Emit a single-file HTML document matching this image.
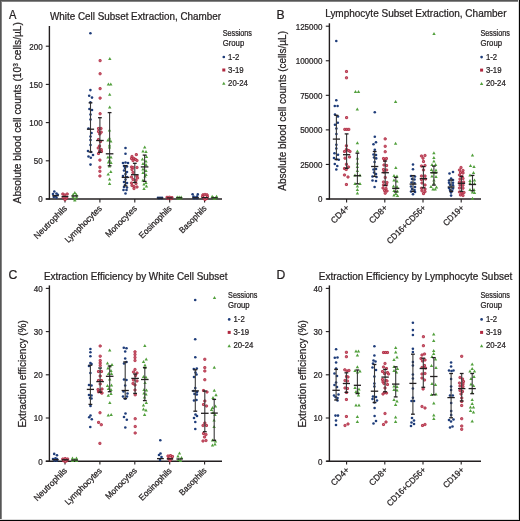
<!DOCTYPE html>
<html><head><meta charset="utf-8"><style>html,body{margin:0;padding:0;background:#fff;width:520px;height:521px;overflow:hidden}</style></head>
<body>
<svg width="520" height="521" viewBox="0 0 520 521" style="position:absolute;left:0;top:0;font-family:'Liberation Sans', sans-serif;will-change:transform">
<rect x="0" y="0" width="520" height="521" fill="#fff"/>
<line x1="49.4" y1="26.0" x2="49.4" y2="199.65" stroke="#231f20" stroke-width="1.4"/>
<line x1="45.8" y1="199.0" x2="222.0" y2="199.0" stroke="#231f20" stroke-width="1.4"/>
<line x1="45.8" y1="199.0" x2="49.4" y2="199.0" stroke="#231f20" stroke-width="1.1"/>
<text x="42.6" y="202.4" font-size="8.6" fill="#231f20" stroke="#231f20" stroke-width="0.24" text-anchor="end" textLength="4.45" lengthAdjust="spacingAndGlyphs" >0</text>
<line x1="45.8" y1="160.8" x2="49.4" y2="160.8" stroke="#231f20" stroke-width="1.1"/>
<text x="42.6" y="164.20000000000002" font-size="8.6" fill="#231f20" stroke="#231f20" stroke-width="0.24" text-anchor="end" textLength="8.9" lengthAdjust="spacingAndGlyphs" >50</text>
<line x1="45.8" y1="122.6" x2="49.4" y2="122.6" stroke="#231f20" stroke-width="1.1"/>
<text x="42.6" y="126.0" font-size="8.6" fill="#231f20" stroke="#231f20" stroke-width="0.24" text-anchor="end" textLength="13.35" lengthAdjust="spacingAndGlyphs" >100</text>
<line x1="45.8" y1="84.4" x2="49.4" y2="84.4" stroke="#231f20" stroke-width="1.1"/>
<text x="42.6" y="87.80000000000001" font-size="8.6" fill="#231f20" stroke="#231f20" stroke-width="0.24" text-anchor="end" textLength="13.35" lengthAdjust="spacingAndGlyphs" >150</text>
<line x1="45.8" y1="46.2" x2="49.4" y2="46.2" stroke="#231f20" stroke-width="1.1"/>
<text x="42.6" y="49.6" font-size="8.6" fill="#231f20" stroke="#231f20" stroke-width="0.24" text-anchor="end" textLength="13.35" lengthAdjust="spacingAndGlyphs" >200</text>
<line x1="65" y1="199.0" x2="65" y2="202.4" stroke="#231f20" stroke-width="1.1"/>
<line x1="99.9" y1="199.0" x2="99.9" y2="202.4" stroke="#231f20" stroke-width="1.1"/>
<line x1="134.8" y1="199.0" x2="134.8" y2="202.4" stroke="#231f20" stroke-width="1.1"/>
<line x1="169.7" y1="199.0" x2="169.7" y2="202.4" stroke="#231f20" stroke-width="1.1"/>
<line x1="204.6" y1="199.0" x2="204.6" y2="202.4" stroke="#231f20" stroke-width="1.1"/>
<text transform="translate(67.6,209.0) rotate(-45)" x="0" y="0" font-size="8.6" fill="#231f20" stroke="#231f20" stroke-width="0.24" text-anchor="end" textLength="43.0" lengthAdjust="spacingAndGlyphs" >Neutrophils</text>
<text transform="translate(102.5,209.0) rotate(-45)" x="0" y="0" font-size="8.6" fill="#231f20" stroke="#231f20" stroke-width="0.24" text-anchor="end" textLength="48.6" lengthAdjust="spacingAndGlyphs" >Lymphocytes</text>
<text transform="translate(137.4,209.0) rotate(-45)" x="0" y="0" font-size="8.6" fill="#231f20" stroke="#231f20" stroke-width="0.24" text-anchor="end" textLength="40.5" lengthAdjust="spacingAndGlyphs" >Monocytes</text>
<text transform="translate(172.29999999999998,209.0) rotate(-45)" x="0" y="0" font-size="8.6" fill="#231f20" stroke="#231f20" stroke-width="0.24" text-anchor="end" textLength="42.4" lengthAdjust="spacingAndGlyphs" >Eosinophils</text>
<text transform="translate(207.2,209.0) rotate(-45)" x="0" y="0" font-size="8.6" fill="#231f20" stroke="#231f20" stroke-width="0.24" text-anchor="end" textLength="35.0" lengthAdjust="spacingAndGlyphs" >Basophils</text>
<line x1="329.4" y1="23.3" x2="329.4" y2="199.65" stroke="#231f20" stroke-width="1.4"/>
<line x1="326.3" y1="199.0" x2="481.0" y2="199.0" stroke="#231f20" stroke-width="1.4"/>
<line x1="325.79999999999995" y1="199.0" x2="329.4" y2="199.0" stroke="#231f20" stroke-width="1.1"/>
<text x="322.4" y="202.4" font-size="8.6" fill="#231f20" stroke="#231f20" stroke-width="0.24" text-anchor="end" textLength="4.45" lengthAdjust="spacingAndGlyphs" >0</text>
<line x1="325.79999999999995" y1="164.44" x2="329.4" y2="164.44" stroke="#231f20" stroke-width="1.1"/>
<text x="322.4" y="167.84" font-size="8.6" fill="#231f20" stroke="#231f20" stroke-width="0.24" text-anchor="end" textLength="22.25" lengthAdjust="spacingAndGlyphs" >25000</text>
<line x1="325.79999999999995" y1="129.88" x2="329.4" y2="129.88" stroke="#231f20" stroke-width="1.1"/>
<text x="322.4" y="133.28" font-size="8.6" fill="#231f20" stroke="#231f20" stroke-width="0.24" text-anchor="end" textLength="22.25" lengthAdjust="spacingAndGlyphs" >50000</text>
<line x1="325.79999999999995" y1="95.32" x2="329.4" y2="95.32" stroke="#231f20" stroke-width="1.1"/>
<text x="322.4" y="98.72" font-size="8.6" fill="#231f20" stroke="#231f20" stroke-width="0.24" text-anchor="end" textLength="22.25" lengthAdjust="spacingAndGlyphs" >75000</text>
<line x1="325.79999999999995" y1="60.76" x2="329.4" y2="60.76" stroke="#231f20" stroke-width="1.1"/>
<text x="322.4" y="64.16" font-size="8.6" fill="#231f20" stroke="#231f20" stroke-width="0.24" text-anchor="end" textLength="26.7" lengthAdjust="spacingAndGlyphs" >100000</text>
<line x1="325.79999999999995" y1="26.2" x2="329.4" y2="26.2" stroke="#231f20" stroke-width="1.1"/>
<text x="322.4" y="29.599999999999998" font-size="8.6" fill="#231f20" stroke="#231f20" stroke-width="0.24" text-anchor="end" textLength="26.7" lengthAdjust="spacingAndGlyphs" >125000</text>
<line x1="346.6" y1="199.0" x2="346.6" y2="202.4" stroke="#231f20" stroke-width="1.1"/>
<line x1="384.8" y1="199.0" x2="384.8" y2="202.4" stroke="#231f20" stroke-width="1.1"/>
<line x1="423.0" y1="199.0" x2="423.0" y2="202.4" stroke="#231f20" stroke-width="1.1"/>
<line x1="461.2" y1="199.0" x2="461.2" y2="202.4" stroke="#231f20" stroke-width="1.1"/>
<text transform="translate(349.90000000000003,208.3) rotate(-45)" x="0" y="0" font-size="8.6" fill="#231f20" stroke="#231f20" stroke-width="0.24" text-anchor="end" textLength="22.2" lengthAdjust="spacingAndGlyphs" >CD4+</text>
<text transform="translate(388.1,208.3) rotate(-45)" x="0" y="0" font-size="8.6" fill="#231f20" stroke="#231f20" stroke-width="0.24" text-anchor="end" textLength="22.2" lengthAdjust="spacingAndGlyphs" >CD8+</text>
<text transform="translate(426.3,208.3) rotate(-45)" x="0" y="0" font-size="8.6" fill="#231f20" stroke="#231f20" stroke-width="0.24" text-anchor="end" textLength="51.1" lengthAdjust="spacingAndGlyphs" >CD16+CD56+</text>
<text transform="translate(464.5,208.3) rotate(-45)" x="0" y="0" font-size="8.6" fill="#231f20" stroke="#231f20" stroke-width="0.24" text-anchor="end" textLength="25.6" lengthAdjust="spacingAndGlyphs" >CD19+</text>
<line x1="49.4" y1="285.4" x2="49.4" y2="461.84999999999997" stroke="#231f20" stroke-width="1.4"/>
<line x1="45.8" y1="461.2" x2="222.0" y2="461.2" stroke="#231f20" stroke-width="1.4"/>
<line x1="45.8" y1="461.2" x2="49.4" y2="461.2" stroke="#231f20" stroke-width="1.1"/>
<text x="42.6" y="464.59999999999997" font-size="8.6" fill="#231f20" stroke="#231f20" stroke-width="0.24" text-anchor="end" textLength="4.45" lengthAdjust="spacingAndGlyphs" >0</text>
<line x1="45.8" y1="418.0" x2="49.4" y2="418.0" stroke="#231f20" stroke-width="1.1"/>
<text x="42.6" y="421.4" font-size="8.6" fill="#231f20" stroke="#231f20" stroke-width="0.24" text-anchor="end" textLength="8.9" lengthAdjust="spacingAndGlyphs" >10</text>
<line x1="45.8" y1="374.8" x2="49.4" y2="374.8" stroke="#231f20" stroke-width="1.1"/>
<text x="42.6" y="378.2" font-size="8.6" fill="#231f20" stroke="#231f20" stroke-width="0.24" text-anchor="end" textLength="8.9" lengthAdjust="spacingAndGlyphs" >20</text>
<line x1="45.8" y1="331.6" x2="49.4" y2="331.6" stroke="#231f20" stroke-width="1.1"/>
<text x="42.6" y="335.0" font-size="8.6" fill="#231f20" stroke="#231f20" stroke-width="0.24" text-anchor="end" textLength="8.9" lengthAdjust="spacingAndGlyphs" >30</text>
<line x1="45.8" y1="288.4" x2="49.4" y2="288.4" stroke="#231f20" stroke-width="1.1"/>
<text x="42.6" y="291.79999999999995" font-size="8.6" fill="#231f20" stroke="#231f20" stroke-width="0.24" text-anchor="end" textLength="8.9" lengthAdjust="spacingAndGlyphs" >40</text>
<line x1="65" y1="461.2" x2="65" y2="464.59999999999997" stroke="#231f20" stroke-width="1.1"/>
<line x1="99.9" y1="461.2" x2="99.9" y2="464.59999999999997" stroke="#231f20" stroke-width="1.1"/>
<line x1="134.8" y1="461.2" x2="134.8" y2="464.59999999999997" stroke="#231f20" stroke-width="1.1"/>
<line x1="169.7" y1="461.2" x2="169.7" y2="464.59999999999997" stroke="#231f20" stroke-width="1.1"/>
<line x1="204.6" y1="461.2" x2="204.6" y2="464.59999999999997" stroke="#231f20" stroke-width="1.1"/>
<text transform="translate(67.6,471.2) rotate(-45)" x="0" y="0" font-size="8.6" fill="#231f20" stroke="#231f20" stroke-width="0.24" text-anchor="end" textLength="43.0" lengthAdjust="spacingAndGlyphs" >Neutrophils</text>
<text transform="translate(102.5,471.2) rotate(-45)" x="0" y="0" font-size="8.6" fill="#231f20" stroke="#231f20" stroke-width="0.24" text-anchor="end" textLength="48.6" lengthAdjust="spacingAndGlyphs" >Lymphocytes</text>
<text transform="translate(137.4,471.2) rotate(-45)" x="0" y="0" font-size="8.6" fill="#231f20" stroke="#231f20" stroke-width="0.24" text-anchor="end" textLength="40.5" lengthAdjust="spacingAndGlyphs" >Monocytes</text>
<text transform="translate(172.29999999999998,471.2) rotate(-45)" x="0" y="0" font-size="8.6" fill="#231f20" stroke="#231f20" stroke-width="0.24" text-anchor="end" textLength="42.4" lengthAdjust="spacingAndGlyphs" >Eosinophils</text>
<text transform="translate(207.2,471.2) rotate(-45)" x="0" y="0" font-size="8.6" fill="#231f20" stroke="#231f20" stroke-width="0.24" text-anchor="end" textLength="35.0" lengthAdjust="spacingAndGlyphs" >Basophils</text>
<line x1="329.4" y1="285.4" x2="329.4" y2="461.84999999999997" stroke="#231f20" stroke-width="1.4"/>
<line x1="326.3" y1="461.2" x2="481.0" y2="461.2" stroke="#231f20" stroke-width="1.4"/>
<line x1="325.79999999999995" y1="461.2" x2="329.4" y2="461.2" stroke="#231f20" stroke-width="1.1"/>
<text x="322.4" y="464.59999999999997" font-size="8.6" fill="#231f20" stroke="#231f20" stroke-width="0.24" text-anchor="end" textLength="4.45" lengthAdjust="spacingAndGlyphs" >0</text>
<line x1="325.79999999999995" y1="418.0" x2="329.4" y2="418.0" stroke="#231f20" stroke-width="1.1"/>
<text x="322.4" y="421.4" font-size="8.6" fill="#231f20" stroke="#231f20" stroke-width="0.24" text-anchor="end" textLength="8.9" lengthAdjust="spacingAndGlyphs" >10</text>
<line x1="325.79999999999995" y1="374.8" x2="329.4" y2="374.8" stroke="#231f20" stroke-width="1.1"/>
<text x="322.4" y="378.2" font-size="8.6" fill="#231f20" stroke="#231f20" stroke-width="0.24" text-anchor="end" textLength="8.9" lengthAdjust="spacingAndGlyphs" >20</text>
<line x1="325.79999999999995" y1="331.6" x2="329.4" y2="331.6" stroke="#231f20" stroke-width="1.1"/>
<text x="322.4" y="335.0" font-size="8.6" fill="#231f20" stroke="#231f20" stroke-width="0.24" text-anchor="end" textLength="8.9" lengthAdjust="spacingAndGlyphs" >30</text>
<line x1="325.79999999999995" y1="288.4" x2="329.4" y2="288.4" stroke="#231f20" stroke-width="1.1"/>
<text x="322.4" y="291.79999999999995" font-size="8.6" fill="#231f20" stroke="#231f20" stroke-width="0.24" text-anchor="end" textLength="8.9" lengthAdjust="spacingAndGlyphs" >40</text>
<line x1="346.6" y1="461.2" x2="346.6" y2="464.59999999999997" stroke="#231f20" stroke-width="1.1"/>
<line x1="384.8" y1="461.2" x2="384.8" y2="464.59999999999997" stroke="#231f20" stroke-width="1.1"/>
<line x1="423.0" y1="461.2" x2="423.0" y2="464.59999999999997" stroke="#231f20" stroke-width="1.1"/>
<line x1="461.2" y1="461.2" x2="461.2" y2="464.59999999999997" stroke="#231f20" stroke-width="1.1"/>
<text transform="translate(349.90000000000003,470.5) rotate(-45)" x="0" y="0" font-size="8.6" fill="#231f20" stroke="#231f20" stroke-width="0.24" text-anchor="end" textLength="22.2" lengthAdjust="spacingAndGlyphs" >CD4+</text>
<text transform="translate(388.1,470.5) rotate(-45)" x="0" y="0" font-size="8.6" fill="#231f20" stroke="#231f20" stroke-width="0.24" text-anchor="end" textLength="22.2" lengthAdjust="spacingAndGlyphs" >CD8+</text>
<text transform="translate(426.3,470.5) rotate(-45)" x="0" y="0" font-size="8.6" fill="#231f20" stroke="#231f20" stroke-width="0.24" text-anchor="end" textLength="51.1" lengthAdjust="spacingAndGlyphs" >CD16+CD56+</text>
<text transform="translate(464.5,470.5) rotate(-45)" x="0" y="0" font-size="8.6" fill="#231f20" stroke="#231f20" stroke-width="0.24" text-anchor="end" textLength="25.6" lengthAdjust="spacingAndGlyphs" >CD19+</text>
<text x="8.9" y="18.8" font-size="12.2" fill="#231f20" stroke="#231f20" stroke-width="0.24" textLength="7.4" lengthAdjust="spacingAndGlyphs" >A</text>
<text x="276.6" y="18.8" font-size="12.2" fill="#231f20" stroke="#231f20" stroke-width="0.24" >B</text>
<text x="8.4" y="278.8" font-size="12.2" fill="#231f20" stroke="#231f20" stroke-width="0.24" >C</text>
<text x="276.6" y="278.8" font-size="12.2" fill="#231f20" stroke="#231f20" stroke-width="0.24" >D</text>
<text x="50.0" y="19.8" font-size="10.3" fill="#231f20" stroke="#231f20" stroke-width="0.24" textLength="171.0" lengthAdjust="spacingAndGlyphs" >White Cell Subset Extraction, Chamber</text>
<text x="325.2" y="17.0" font-size="10.3" fill="#231f20" stroke="#231f20" stroke-width="0.24" textLength="181.3" lengthAdjust="spacingAndGlyphs" >Lymphocyte Subset Extraction, Chamber</text>
<text x="44.0" y="279.9" font-size="10.1" fill="#231f20" stroke="#231f20" stroke-width="0.24" textLength="183.5" lengthAdjust="spacingAndGlyphs" >Extraction Efficiency by White Cell Subset</text>
<text x="318.8" y="279.8" font-size="10.1" fill="#231f20" stroke="#231f20" stroke-width="0.24" textLength="193.5" lengthAdjust="spacingAndGlyphs" >Extraction Efficiency by Lymphocyte Subset</text>
<text transform="translate(21.0,203.4) rotate(-90)" x="0" y="0" font-size="10.3" fill="#231f20" stroke="#231f20" stroke-width="0.24" textLength="181.4" lengthAdjust="spacingAndGlyphs" >Absolute blood cell counts (10<tspan font-size="6.5" dy="-3.2">3</tspan><tspan dy="3.2"> cells/µL)</tspan></text>
<text transform="translate(286.1,190.7) rotate(-90)" x="0" y="0" font-size="10.3" fill="#231f20" stroke="#231f20" stroke-width="0.24" textLength="159.7" lengthAdjust="spacingAndGlyphs" >Absolute blood cell counts (cells/µL)</text>
<text transform="translate(26.3,427.6) rotate(-90)" x="0" y="0" font-size="10.3" fill="#231f20" stroke="#231f20" stroke-width="0.24" textLength="107.4" lengthAdjust="spacingAndGlyphs" >Extraction efficiency (%)</text>
<text transform="translate(306.3,427.6) rotate(-90)" x="0" y="0" font-size="10.3" fill="#231f20" stroke="#231f20" stroke-width="0.24" textLength="107.4" lengthAdjust="spacingAndGlyphs" >Extraction efficiency (%)</text>
<text x="222.7" y="35.8" font-size="8.2" fill="#231f20" stroke="#231f20" stroke-width="0.24" textLength="29.3" lengthAdjust="spacingAndGlyphs" >Sessions</text>
<text x="222.7" y="45.5" font-size="8.2" fill="#231f20" stroke="#231f20" stroke-width="0.24" textLength="21.5" lengthAdjust="spacingAndGlyphs" >Group</text>
<circle cx="223.79999999999998" cy="57.0" r="1.35" fill="#1f3d7a"/>
<text x="228.1" y="59.8" font-size="8.3" fill="#231f20" stroke="#231f20" stroke-width="0.24" textLength="11.2" lengthAdjust="spacingAndGlyphs" >1-2</text>
<rect x="222.29999999999998" y="68.5" width="3" height="3" fill="#b0283f"/>
<text x="228.1" y="72.9" font-size="8.3" fill="#231f20" stroke="#231f20" stroke-width="0.24" textLength="15.6" lengthAdjust="spacingAndGlyphs" >3-19</text>
<path d="M222.1,84.80000000000001 L225.49999999999997,84.80000000000001 L223.79999999999998,81.80000000000001 Z" fill="#52a03d"/>
<text x="228.1" y="85.8" font-size="8.3" fill="#231f20" stroke="#231f20" stroke-width="0.24" textLength="19.8" lengthAdjust="spacingAndGlyphs" >20-24</text>
<text x="480.5" y="35.9" font-size="8.2" fill="#231f20" stroke="#231f20" stroke-width="0.24" textLength="29.3" lengthAdjust="spacingAndGlyphs" >Sessions</text>
<text x="480.5" y="45.599999999999994" font-size="8.2" fill="#231f20" stroke="#231f20" stroke-width="0.24" textLength="21.5" lengthAdjust="spacingAndGlyphs" >Group</text>
<circle cx="481.6" cy="57.099999999999994" r="1.35" fill="#1f3d7a"/>
<text x="485.9" y="59.9" font-size="8.3" fill="#231f20" stroke="#231f20" stroke-width="0.24" textLength="11.2" lengthAdjust="spacingAndGlyphs" >1-2</text>
<rect x="480.1" y="68.6" width="3" height="3" fill="#b0283f"/>
<text x="485.9" y="73.0" font-size="8.3" fill="#231f20" stroke="#231f20" stroke-width="0.24" textLength="15.6" lengthAdjust="spacingAndGlyphs" >3-19</text>
<path d="M479.90000000000003,84.9 L483.3,84.9 L481.6,81.9 Z" fill="#52a03d"/>
<text x="485.9" y="85.9" font-size="8.3" fill="#231f20" stroke="#231f20" stroke-width="0.24" textLength="19.8" lengthAdjust="spacingAndGlyphs" >20-24</text>
<text x="228.1" y="298.2" font-size="8.2" fill="#231f20" stroke="#231f20" stroke-width="0.24" textLength="29.3" lengthAdjust="spacingAndGlyphs" >Sessions</text>
<text x="228.1" y="307.9" font-size="8.2" fill="#231f20" stroke="#231f20" stroke-width="0.24" textLength="21.5" lengthAdjust="spacingAndGlyphs" >Group</text>
<circle cx="229.2" cy="319.4" r="1.35" fill="#1f3d7a"/>
<text x="233.5" y="322.2" font-size="8.3" fill="#231f20" stroke="#231f20" stroke-width="0.24" textLength="11.2" lengthAdjust="spacingAndGlyphs" >1-2</text>
<rect x="227.7" y="330.9" width="3" height="3" fill="#b0283f"/>
<text x="233.5" y="335.3" font-size="8.3" fill="#231f20" stroke="#231f20" stroke-width="0.24" textLength="15.6" lengthAdjust="spacingAndGlyphs" >3-19</text>
<path d="M227.5,347.2 L230.89999999999998,347.2 L229.2,344.2 Z" fill="#52a03d"/>
<text x="233.5" y="348.2" font-size="8.3" fill="#231f20" stroke="#231f20" stroke-width="0.24" textLength="19.8" lengthAdjust="spacingAndGlyphs" >20-24</text>
<text x="480.5" y="298.2" font-size="8.2" fill="#231f20" stroke="#231f20" stroke-width="0.24" textLength="29.3" lengthAdjust="spacingAndGlyphs" >Sessions</text>
<text x="480.5" y="307.9" font-size="8.2" fill="#231f20" stroke="#231f20" stroke-width="0.24" textLength="21.5" lengthAdjust="spacingAndGlyphs" >Group</text>
<circle cx="481.6" cy="319.4" r="1.35" fill="#1f3d7a"/>
<text x="485.9" y="322.2" font-size="8.3" fill="#231f20" stroke="#231f20" stroke-width="0.24" textLength="11.2" lengthAdjust="spacingAndGlyphs" >1-2</text>
<rect x="480.1" y="330.9" width="3" height="3" fill="#b0283f"/>
<text x="485.9" y="335.3" font-size="8.3" fill="#231f20" stroke="#231f20" stroke-width="0.24" textLength="15.6" lengthAdjust="spacingAndGlyphs" >3-19</text>
<path d="M479.90000000000003,347.2 L483.3,347.2 L481.6,344.2 Z" fill="#52a03d"/>
<text x="485.9" y="348.2" font-size="8.3" fill="#231f20" stroke="#231f20" stroke-width="0.24" textLength="19.8" lengthAdjust="spacingAndGlyphs" >20-24</text>
<circle cx="54.3" cy="191.5" r="1.3" fill="#1f3d7a"/>
<circle cx="53" cy="194" r="1.3" fill="#1f3d7a"/>
<circle cx="56.5" cy="193.5" r="1.3" fill="#1f3d7a"/>
<circle cx="57.8" cy="194.8" r="1.3" fill="#1f3d7a"/>
<circle cx="55.5" cy="196" r="1.3" fill="#1f3d7a"/>
<circle cx="53.8" cy="197" r="1.3" fill="#1f3d7a"/>
<circle cx="56.5" cy="197.6" r="1.3" fill="#1f3d7a"/>
<rect x="61.75" y="192.95" width="2.1" height="2.1" rx="0.4" fill="#d07082" stroke="#b0283f" stroke-width="0.9"/>
<rect x="63.75" y="193.95" width="2.1" height="2.1" rx="0.4" fill="#d07082" stroke="#b0283f" stroke-width="0.9"/>
<rect x="66.15" y="192.95" width="2.1" height="2.1" rx="0.4" fill="#d07082" stroke="#b0283f" stroke-width="0.9"/>
<rect x="62.15" y="196.45" width="2.1" height="2.1" rx="0.4" fill="#d07082" stroke="#b0283f" stroke-width="0.9"/>
<rect x="65.55" y="196.95" width="2.1" height="2.1" rx="0.4" fill="#d07082" stroke="#b0283f" stroke-width="0.9"/>
<rect x="63.95" y="198.55" width="2.1" height="2.1" rx="0.4" fill="#d07082" stroke="#b0283f" stroke-width="0.9"/>
<path d="M73.10,194.00L76.50,194.00L74.80,191.00Z" fill="#52a03d"/>
<path d="M71.50,195.80L74.90,195.80L73.20,192.80Z" fill="#52a03d"/>
<path d="M74.70,196.00L78.10,196.00L76.40,193.00Z" fill="#52a03d"/>
<path d="M71.30,198.20L74.70,198.20L73.00,195.20Z" fill="#52a03d"/>
<path d="M74.90,198.60L78.30,198.60L76.60,195.60Z" fill="#52a03d"/>
<path d="M73.10,200.20L76.50,200.20L74.80,197.20Z" fill="#52a03d"/>
<path d="M73.10,201.60L76.50,201.60L74.80,198.60Z" fill="#52a03d"/>
<circle cx="90.4" cy="33.2" r="1.3" fill="#1f3d7a"/>
<circle cx="90.4" cy="90.1" r="1.3" fill="#1f3d7a"/>
<circle cx="89.2" cy="95.8" r="1.3" fill="#1f3d7a"/>
<circle cx="92" cy="97.6" r="1.3" fill="#1f3d7a"/>
<circle cx="90.4" cy="102.4" r="1.3" fill="#1f3d7a"/>
<circle cx="89.4" cy="109" r="1.3" fill="#1f3d7a"/>
<circle cx="92" cy="110" r="1.3" fill="#1f3d7a"/>
<circle cx="90.5" cy="114.5" r="1.3" fill="#1f3d7a"/>
<circle cx="90.5" cy="119.5" r="1.3" fill="#1f3d7a"/>
<circle cx="88.5" cy="128.5" r="1.3" fill="#1f3d7a"/>
<circle cx="91.5" cy="133" r="1.3" fill="#1f3d7a"/>
<circle cx="90.5" cy="136.5" r="1.3" fill="#1f3d7a"/>
<circle cx="90.5" cy="140" r="1.3" fill="#1f3d7a"/>
<circle cx="90.5" cy="145" r="1.3" fill="#1f3d7a"/>
<circle cx="88" cy="151" r="1.3" fill="#1f3d7a"/>
<circle cx="91" cy="152" r="1.3" fill="#1f3d7a"/>
<circle cx="93" cy="155" r="1.3" fill="#1f3d7a"/>
<circle cx="88.5" cy="156.5" r="1.3" fill="#1f3d7a"/>
<circle cx="90.8" cy="157.8" r="1.3" fill="#1f3d7a"/>
<circle cx="90.5" cy="164.6" r="1.3" fill="#1f3d7a"/>
<rect x="99.05" y="59.55" width="2.1" height="2.1" rx="0.4" fill="#d07082" stroke="#b0283f" stroke-width="0.9"/>
<rect x="99.05" y="72.65" width="2.1" height="2.1" rx="0.4" fill="#d07082" stroke="#b0283f" stroke-width="0.9"/>
<rect x="99.05" y="87.55" width="2.1" height="2.1" rx="0.4" fill="#d07082" stroke="#b0283f" stroke-width="0.9"/>
<rect x="99.05" y="97.05" width="2.1" height="2.1" rx="0.4" fill="#d07082" stroke="#b0283f" stroke-width="0.9"/>
<rect x="99.05" y="112.65" width="2.1" height="2.1" rx="0.4" fill="#d07082" stroke="#b0283f" stroke-width="0.9"/>
<rect x="97.45" y="127.45" width="2.1" height="2.1" rx="0.4" fill="#d07082" stroke="#b0283f" stroke-width="0.9"/>
<rect x="99.95" y="127.45" width="2.1" height="2.1" rx="0.4" fill="#d07082" stroke="#b0283f" stroke-width="0.9"/>
<rect x="97.45" y="130.45" width="2.1" height="2.1" rx="0.4" fill="#d07082" stroke="#b0283f" stroke-width="0.9"/>
<rect x="100.15" y="131.15" width="2.1" height="2.1" rx="0.4" fill="#d07082" stroke="#b0283f" stroke-width="0.9"/>
<rect x="98.65" y="132.95" width="2.1" height="2.1" rx="0.4" fill="#d07082" stroke="#b0283f" stroke-width="0.9"/>
<rect x="97.45" y="138.45" width="2.1" height="2.1" rx="0.4" fill="#d07082" stroke="#b0283f" stroke-width="0.9"/>
<rect x="99.45" y="140.45" width="2.1" height="2.1" rx="0.4" fill="#d07082" stroke="#b0283f" stroke-width="0.9"/>
<rect x="98.45" y="144.95" width="2.1" height="2.1" rx="0.4" fill="#d07082" stroke="#b0283f" stroke-width="0.9"/>
<rect x="97.25" y="146.95" width="2.1" height="2.1" rx="0.4" fill="#d07082" stroke="#b0283f" stroke-width="0.9"/>
<rect x="100.15" y="148.45" width="2.1" height="2.1" rx="0.4" fill="#d07082" stroke="#b0283f" stroke-width="0.9"/>
<rect x="98.65" y="149.95" width="2.1" height="2.1" rx="0.4" fill="#d07082" stroke="#b0283f" stroke-width="0.9"/>
<rect x="97.45" y="152.45" width="2.1" height="2.1" rx="0.4" fill="#d07082" stroke="#b0283f" stroke-width="0.9"/>
<rect x="100.45" y="150.45" width="2.1" height="2.1" rx="0.4" fill="#d07082" stroke="#b0283f" stroke-width="0.9"/>
<rect x="98.85" y="159.05" width="2.1" height="2.1" rx="0.4" fill="#d07082" stroke="#b0283f" stroke-width="0.9"/>
<rect x="98.85" y="166.25" width="2.1" height="2.1" rx="0.4" fill="#d07082" stroke="#b0283f" stroke-width="0.9"/>
<rect x="98.85" y="170.25" width="2.1" height="2.1" rx="0.4" fill="#d07082" stroke="#b0283f" stroke-width="0.9"/>
<rect x="98.85" y="174.95" width="2.1" height="2.1" rx="0.4" fill="#d07082" stroke="#b0283f" stroke-width="0.9"/>
<path d="M108.10,60.00L111.50,60.00L109.80,57.00Z" fill="#52a03d"/>
<path d="M106.70,85.60L110.10,85.60L108.40,82.60Z" fill="#52a03d"/>
<path d="M109.10,85.60L112.50,85.60L110.80,82.60Z" fill="#52a03d"/>
<path d="M108.00,95.80L111.40,95.80L109.70,92.80Z" fill="#52a03d"/>
<path d="M108.00,108.40L111.40,108.40L109.70,105.40Z" fill="#52a03d"/>
<path d="M107.80,131.40L111.20,131.40L109.50,128.40Z" fill="#52a03d"/>
<path d="M107.80,139.40L111.20,139.40L109.50,136.40Z" fill="#52a03d"/>
<path d="M106.30,141.40L109.70,141.40L108.00,138.40Z" fill="#52a03d"/>
<path d="M109.10,142.40L112.50,142.40L110.80,139.40Z" fill="#52a03d"/>
<path d="M107.80,146.40L111.20,146.40L109.50,143.40Z" fill="#52a03d"/>
<path d="M107.80,148.40L111.20,148.40L109.50,145.40Z" fill="#52a03d"/>
<path d="M106.30,158.40L109.70,158.40L108.00,155.40Z" fill="#52a03d"/>
<path d="M109.30,158.40L112.70,158.40L111.00,155.40Z" fill="#52a03d"/>
<path d="M107.80,161.40L111.20,161.40L109.50,158.40Z" fill="#52a03d"/>
<path d="M106.80,163.40L110.20,163.40L108.50,160.40Z" fill="#52a03d"/>
<path d="M109.30,163.90L112.70,163.90L111.00,160.90Z" fill="#52a03d"/>
<path d="M107.80,167.40L111.20,167.40L109.50,164.40Z" fill="#52a03d"/>
<path d="M109.10,172.90L112.50,172.90L110.80,169.90Z" fill="#52a03d"/>
<path d="M106.50,175.40L109.90,175.40L108.20,172.40Z" fill="#52a03d"/>
<path d="M107.90,180.40L111.30,180.40L109.60,177.40Z" fill="#52a03d"/>
<path d="M107.90,184.90L111.30,184.90L109.60,181.90Z" fill="#52a03d"/>
<circle cx="125.5" cy="148" r="1.3" fill="#1f3d7a"/>
<circle cx="125.5" cy="153.8" r="1.3" fill="#1f3d7a"/>
<circle cx="123" cy="163" r="1.3" fill="#1f3d7a"/>
<circle cx="125.5" cy="162.5" r="1.3" fill="#1f3d7a"/>
<circle cx="128" cy="163" r="1.3" fill="#1f3d7a"/>
<circle cx="124" cy="166" r="1.3" fill="#1f3d7a"/>
<circle cx="127" cy="166.5" r="1.3" fill="#1f3d7a"/>
<circle cx="125" cy="168" r="1.3" fill="#1f3d7a"/>
<circle cx="124" cy="170.5" r="1.3" fill="#1f3d7a"/>
<circle cx="127" cy="172" r="1.3" fill="#1f3d7a"/>
<circle cx="125.5" cy="174" r="1.3" fill="#1f3d7a"/>
<circle cx="123" cy="176" r="1.3" fill="#1f3d7a"/>
<circle cx="127" cy="177" r="1.3" fill="#1f3d7a"/>
<circle cx="125.5" cy="179.5" r="1.3" fill="#1f3d7a"/>
<circle cx="124" cy="182" r="1.3" fill="#1f3d7a"/>
<circle cx="127" cy="183" r="1.3" fill="#1f3d7a"/>
<circle cx="125" cy="185" r="1.3" fill="#1f3d7a"/>
<circle cx="124" cy="187" r="1.3" fill="#1f3d7a"/>
<circle cx="127" cy="187.5" r="1.3" fill="#1f3d7a"/>
<circle cx="123.5" cy="190" r="1.3" fill="#1f3d7a"/>
<circle cx="126.5" cy="190" r="1.3" fill="#1f3d7a"/>
<circle cx="125.5" cy="193.5" r="1.3" fill="#1f3d7a"/>
<rect x="135.25" y="153.55" width="2.1" height="2.1" rx="0.4" fill="#d07082" stroke="#b0283f" stroke-width="0.9"/>
<rect x="130.95" y="155.45" width="2.1" height="2.1" rx="0.4" fill="#d07082" stroke="#b0283f" stroke-width="0.9"/>
<rect x="130.45" y="157.45" width="2.1" height="2.1" rx="0.4" fill="#d07082" stroke="#b0283f" stroke-width="0.9"/>
<rect x="132.95" y="157.45" width="2.1" height="2.1" rx="0.4" fill="#d07082" stroke="#b0283f" stroke-width="0.9"/>
<rect x="134.45" y="158.45" width="2.1" height="2.1" rx="0.4" fill="#d07082" stroke="#b0283f" stroke-width="0.9"/>
<rect x="135.95" y="159.45" width="2.1" height="2.1" rx="0.4" fill="#d07082" stroke="#b0283f" stroke-width="0.9"/>
<rect x="131.95" y="159.45" width="2.1" height="2.1" rx="0.4" fill="#d07082" stroke="#b0283f" stroke-width="0.9"/>
<rect x="130.45" y="165.95" width="2.1" height="2.1" rx="0.4" fill="#d07082" stroke="#b0283f" stroke-width="0.9"/>
<rect x="131.95" y="166.45" width="2.1" height="2.1" rx="0.4" fill="#d07082" stroke="#b0283f" stroke-width="0.9"/>
<rect x="135.95" y="166.45" width="2.1" height="2.1" rx="0.4" fill="#d07082" stroke="#b0283f" stroke-width="0.9"/>
<rect x="130.95" y="168.45" width="2.1" height="2.1" rx="0.4" fill="#d07082" stroke="#b0283f" stroke-width="0.9"/>
<rect x="131.95" y="171.45" width="2.1" height="2.1" rx="0.4" fill="#d07082" stroke="#b0283f" stroke-width="0.9"/>
<rect x="135.95" y="174.95" width="2.1" height="2.1" rx="0.4" fill="#d07082" stroke="#b0283f" stroke-width="0.9"/>
<rect x="130.45" y="175.95" width="2.1" height="2.1" rx="0.4" fill="#d07082" stroke="#b0283f" stroke-width="0.9"/>
<rect x="136.45" y="176.95" width="2.1" height="2.1" rx="0.4" fill="#d07082" stroke="#b0283f" stroke-width="0.9"/>
<rect x="131.95" y="178.45" width="2.1" height="2.1" rx="0.4" fill="#d07082" stroke="#b0283f" stroke-width="0.9"/>
<rect x="134.95" y="179.45" width="2.1" height="2.1" rx="0.4" fill="#d07082" stroke="#b0283f" stroke-width="0.9"/>
<rect x="130.45" y="181.95" width="2.1" height="2.1" rx="0.4" fill="#d07082" stroke="#b0283f" stroke-width="0.9"/>
<rect x="134.95" y="182.45" width="2.1" height="2.1" rx="0.4" fill="#d07082" stroke="#b0283f" stroke-width="0.9"/>
<rect x="130.95" y="184.45" width="2.1" height="2.1" rx="0.4" fill="#d07082" stroke="#b0283f" stroke-width="0.9"/>
<rect x="132.95" y="185.45" width="2.1" height="2.1" rx="0.4" fill="#d07082" stroke="#b0283f" stroke-width="0.9"/>
<rect x="135.95" y="185.95" width="2.1" height="2.1" rx="0.4" fill="#d07082" stroke="#b0283f" stroke-width="0.9"/>
<rect x="132.95" y="187.45" width="2.1" height="2.1" rx="0.4" fill="#d07082" stroke="#b0283f" stroke-width="0.9"/>
<path d="M143.00,148.50L146.40,148.50L144.70,145.50Z" fill="#52a03d"/>
<path d="M141.30,152.40L144.70,152.40L143.00,149.40Z" fill="#52a03d"/>
<path d="M144.30,152.90L147.70,152.90L146.00,149.90Z" fill="#52a03d"/>
<path d="M144.80,157.90L148.20,157.90L146.50,154.90Z" fill="#52a03d"/>
<path d="M140.80,160.40L144.20,160.40L142.50,157.40Z" fill="#52a03d"/>
<path d="M144.30,162.40L147.70,162.40L146.00,159.40Z" fill="#52a03d"/>
<path d="M141.30,164.90L144.70,164.90L143.00,161.90Z" fill="#52a03d"/>
<path d="M144.30,165.90L147.70,165.90L146.00,162.90Z" fill="#52a03d"/>
<path d="M141.30,170.40L144.70,170.40L143.00,167.40Z" fill="#52a03d"/>
<path d="M144.30,171.90L147.70,171.90L146.00,168.90Z" fill="#52a03d"/>
<path d="M141.30,173.90L144.70,173.90L143.00,170.90Z" fill="#52a03d"/>
<path d="M144.30,175.90L147.70,175.90L146.00,172.90Z" fill="#52a03d"/>
<path d="M143.30,177.40L146.70,177.40L145.00,174.40Z" fill="#52a03d"/>
<path d="M141.30,181.40L144.70,181.40L143.00,178.40Z" fill="#52a03d"/>
<path d="M144.30,183.90L147.70,183.90L146.00,180.90Z" fill="#52a03d"/>
<path d="M142.30,185.40L145.70,185.40L144.00,182.40Z" fill="#52a03d"/>
<path d="M144.80,187.40L148.20,187.40L146.50,184.40Z" fill="#52a03d"/>
<path d="M142.30,189.90L145.70,189.90L144.00,186.90Z" fill="#52a03d"/>
<circle cx="158" cy="197.8" r="1.3" fill="#1f3d7a"/>
<circle cx="160" cy="197.8" r="1.3" fill="#1f3d7a"/>
<circle cx="162" cy="197.8" r="1.3" fill="#1f3d7a"/>
<circle cx="159" cy="198.3" r="1.3" fill="#1f3d7a"/>
<circle cx="161.5" cy="198.3" r="1.3" fill="#1f3d7a"/>
<rect x="165.95" y="196.35" width="2.1" height="2.1" rx="0.4" fill="#d07082" stroke="#b0283f" stroke-width="0.9"/>
<rect x="168.45" y="196.15" width="2.1" height="2.1" rx="0.4" fill="#d07082" stroke="#b0283f" stroke-width="0.9"/>
<rect x="170.95" y="196.55" width="2.1" height="2.1" rx="0.4" fill="#d07082" stroke="#b0283f" stroke-width="0.9"/>
<rect x="166.95" y="197.45" width="2.1" height="2.1" rx="0.4" fill="#d07082" stroke="#b0283f" stroke-width="0.9"/>
<rect x="169.95" y="197.55" width="2.1" height="2.1" rx="0.4" fill="#d07082" stroke="#b0283f" stroke-width="0.9"/>
<path d="M175.50,198.60L178.90,198.60L177.20,195.60Z" fill="#52a03d"/>
<path d="M177.50,198.40L180.90,198.40L179.20,195.40Z" fill="#52a03d"/>
<path d="M179.50,198.60L182.90,198.60L181.20,195.60Z" fill="#52a03d"/>
<path d="M176.50,199.40L179.90,199.40L178.20,196.40Z" fill="#52a03d"/>
<path d="M178.50,199.40L181.90,199.40L180.20,196.40Z" fill="#52a03d"/>
<circle cx="192.6" cy="194.2" r="1.3" fill="#1f3d7a"/>
<circle cx="197.8" cy="194.4" r="1.3" fill="#1f3d7a"/>
<circle cx="193.5" cy="196.5" r="1.3" fill="#1f3d7a"/>
<circle cx="197" cy="196.5" r="1.3" fill="#1f3d7a"/>
<circle cx="195.5" cy="197.5" r="1.3" fill="#1f3d7a"/>
<circle cx="194" cy="198.3" r="1.3" fill="#1f3d7a"/>
<circle cx="197" cy="198.3" r="1.3" fill="#1f3d7a"/>
<rect x="201.95" y="193.75" width="2.1" height="2.1" rx="0.4" fill="#d07082" stroke="#b0283f" stroke-width="0.9"/>
<rect x="203.95" y="193.45" width="2.1" height="2.1" rx="0.4" fill="#d07082" stroke="#b0283f" stroke-width="0.9"/>
<rect x="205.95" y="193.75" width="2.1" height="2.1" rx="0.4" fill="#d07082" stroke="#b0283f" stroke-width="0.9"/>
<rect x="201.45" y="195.45" width="2.1" height="2.1" rx="0.4" fill="#d07082" stroke="#b0283f" stroke-width="0.9"/>
<rect x="206.45" y="195.45" width="2.1" height="2.1" rx="0.4" fill="#d07082" stroke="#b0283f" stroke-width="0.9"/>
<rect x="202.95" y="197.25" width="2.1" height="2.1" rx="0.4" fill="#d07082" stroke="#b0283f" stroke-width="0.9"/>
<rect x="205.45" y="197.45" width="2.1" height="2.1" rx="0.4" fill="#d07082" stroke="#b0283f" stroke-width="0.9"/>
<rect x="203.95" y="198.45" width="2.1" height="2.1" rx="0.4" fill="#d07082" stroke="#b0283f" stroke-width="0.9"/>
<path d="M210.50,197.70L213.90,197.70L212.20,194.70Z" fill="#52a03d"/>
<path d="M214.90,197.70L218.30,197.70L216.60,194.70Z" fill="#52a03d"/>
<path d="M211.80,199.00L215.20,199.00L213.50,196.00Z" fill="#52a03d"/>
<path d="M214.10,199.20L217.50,199.20L215.80,196.20Z" fill="#52a03d"/>
<path d="M212.80,200.00L216.20,200.00L214.50,197.00Z" fill="#52a03d"/>
<line x1="52.3" y1="195.7" x2="58.7" y2="195.7" stroke="#231f20" stroke-width="1.3"/>
<line x1="61.6" y1="196.5" x2="68.4" y2="196.5" stroke="#231f20" stroke-width="1.3"/>
<line x1="71.39999999999999" y1="196.0" x2="78.2" y2="196.0" stroke="#231f20" stroke-width="1.3"/>
<line x1="90.5" y1="102.8" x2="90.5" y2="152.0" stroke="#383838" stroke-width="1.1"/>
<line x1="88.6" y1="102.8" x2="92.4" y2="102.8" stroke="#231f20" stroke-width="1.3"/>
<line x1="88.6" y1="152.0" x2="92.4" y2="152.0" stroke="#231f20" stroke-width="1.3"/>
<line x1="86.9" y1="129.2" x2="94.1" y2="129.2" stroke="#231f20" stroke-width="1.3"/>
<line x1="99.9" y1="117.7" x2="99.9" y2="152.3" stroke="#383838" stroke-width="1.1"/>
<line x1="98.0" y1="117.7" x2="101.80000000000001" y2="117.7" stroke="#231f20" stroke-width="1.3"/>
<line x1="98.0" y1="152.3" x2="101.80000000000001" y2="152.3" stroke="#231f20" stroke-width="1.3"/>
<line x1="96.10000000000001" y1="140.5" x2="103.7" y2="140.5" stroke="#231f20" stroke-width="1.3"/>
<line x1="109.6" y1="112.6" x2="109.6" y2="165.8" stroke="#383838" stroke-width="1.1"/>
<line x1="107.69999999999999" y1="112.6" x2="111.5" y2="112.6" stroke="#231f20" stroke-width="1.3"/>
<line x1="107.69999999999999" y1="165.8" x2="111.5" y2="165.8" stroke="#231f20" stroke-width="1.3"/>
<line x1="105.8" y1="153.8" x2="113.39999999999999" y2="153.8" stroke="#231f20" stroke-width="1.3"/>
<line x1="125.5" y1="165.6" x2="125.5" y2="185.9" stroke="#383838" stroke-width="1.1"/>
<line x1="123.6" y1="165.6" x2="127.4" y2="165.6" stroke="#231f20" stroke-width="1.3"/>
<line x1="123.6" y1="185.9" x2="127.4" y2="185.9" stroke="#231f20" stroke-width="1.3"/>
<line x1="121.7" y1="177.4" x2="129.3" y2="177.4" stroke="#231f20" stroke-width="1.3"/>
<line x1="134.8" y1="163.3" x2="134.8" y2="182.5" stroke="#383838" stroke-width="1.1"/>
<line x1="132.9" y1="163.3" x2="136.70000000000002" y2="163.3" stroke="#231f20" stroke-width="1.3"/>
<line x1="132.9" y1="182.5" x2="136.70000000000002" y2="182.5" stroke="#231f20" stroke-width="1.3"/>
<line x1="131.0" y1="174.7" x2="138.60000000000002" y2="174.7" stroke="#231f20" stroke-width="1.3"/>
<line x1="144.6" y1="155.1" x2="144.6" y2="181.4" stroke="#383838" stroke-width="1.1"/>
<line x1="142.7" y1="155.1" x2="146.5" y2="155.1" stroke="#231f20" stroke-width="1.3"/>
<line x1="142.7" y1="181.4" x2="146.5" y2="181.4" stroke="#231f20" stroke-width="1.3"/>
<line x1="140.79999999999998" y1="166.9" x2="148.4" y2="166.9" stroke="#231f20" stroke-width="1.3"/>
<line x1="157.2" y1="198.2" x2="163.2" y2="198.2" stroke="#231f20" stroke-width="1.3"/>
<line x1="166.6" y1="198.0" x2="172.6" y2="198.0" stroke="#231f20" stroke-width="1.3"/>
<line x1="176.2" y1="197.8" x2="182.2" y2="197.8" stroke="#231f20" stroke-width="1.3"/>
<line x1="192.2" y1="197.8" x2="199.0" y2="197.8" stroke="#231f20" stroke-width="1.3"/>
<line x1="201.6" y1="197.6" x2="208.4" y2="197.6" stroke="#231f20" stroke-width="1.3"/>
<line x1="211.3" y1="197.8" x2="217.7" y2="197.8" stroke="#231f20" stroke-width="1.3"/>
<circle cx="336.3" cy="41" r="1.3" fill="#1f3d7a"/>
<circle cx="336.3" cy="100.2" r="1.3" fill="#1f3d7a"/>
<circle cx="334.8" cy="106" r="1.3" fill="#1f3d7a"/>
<circle cx="337.6" cy="106" r="1.3" fill="#1f3d7a"/>
<circle cx="335" cy="114.5" r="1.3" fill="#1f3d7a"/>
<circle cx="338" cy="116.5" r="1.3" fill="#1f3d7a"/>
<circle cx="337.8" cy="122.8" r="1.3" fill="#1f3d7a"/>
<circle cx="335" cy="124.8" r="1.3" fill="#1f3d7a"/>
<circle cx="336.4" cy="128.5" r="1.3" fill="#1f3d7a"/>
<circle cx="336.4" cy="134" r="1.3" fill="#1f3d7a"/>
<circle cx="336.4" cy="144.8" r="1.3" fill="#1f3d7a"/>
<circle cx="336.3" cy="148.5" r="1.3" fill="#1f3d7a"/>
<circle cx="334.5" cy="153.3" r="1.3" fill="#1f3d7a"/>
<circle cx="338" cy="154.8" r="1.3" fill="#1f3d7a"/>
<circle cx="334" cy="158" r="1.3" fill="#1f3d7a"/>
<circle cx="336.5" cy="159.2" r="1.3" fill="#1f3d7a"/>
<circle cx="338.8" cy="159.8" r="1.3" fill="#1f3d7a"/>
<circle cx="334.8" cy="164" r="1.3" fill="#1f3d7a"/>
<circle cx="337.3" cy="166" r="1.3" fill="#1f3d7a"/>
<circle cx="336.3" cy="169.5" r="1.3" fill="#1f3d7a"/>
<rect x="345.45" y="70.45" width="2.1" height="2.1" rx="0.4" fill="#d07082" stroke="#b0283f" stroke-width="0.9"/>
<rect x="345.45" y="76.75" width="2.1" height="2.1" rx="0.4" fill="#d07082" stroke="#b0283f" stroke-width="0.9"/>
<rect x="345.55" y="116.55" width="2.1" height="2.1" rx="0.4" fill="#d07082" stroke="#b0283f" stroke-width="0.9"/>
<rect x="343.75" y="128.35" width="2.1" height="2.1" rx="0.4" fill="#d07082" stroke="#b0283f" stroke-width="0.9"/>
<rect x="345.75" y="128.35" width="2.1" height="2.1" rx="0.4" fill="#d07082" stroke="#b0283f" stroke-width="0.9"/>
<rect x="347.75" y="128.35" width="2.1" height="2.1" rx="0.4" fill="#d07082" stroke="#b0283f" stroke-width="0.9"/>
<rect x="345.35" y="144.75" width="2.1" height="2.1" rx="0.4" fill="#d07082" stroke="#b0283f" stroke-width="0.9"/>
<rect x="345.35" y="148.45" width="2.1" height="2.1" rx="0.4" fill="#d07082" stroke="#b0283f" stroke-width="0.9"/>
<rect x="343.45" y="150.45" width="2.1" height="2.1" rx="0.4" fill="#d07082" stroke="#b0283f" stroke-width="0.9"/>
<rect x="347.45" y="149.45" width="2.1" height="2.1" rx="0.4" fill="#d07082" stroke="#b0283f" stroke-width="0.9"/>
<rect x="348.95" y="150.45" width="2.1" height="2.1" rx="0.4" fill="#d07082" stroke="#b0283f" stroke-width="0.9"/>
<rect x="343.95" y="157.15" width="2.1" height="2.1" rx="0.4" fill="#d07082" stroke="#b0283f" stroke-width="0.9"/>
<rect x="348.45" y="155.95" width="2.1" height="2.1" rx="0.4" fill="#d07082" stroke="#b0283f" stroke-width="0.9"/>
<rect x="345.35" y="163.25" width="2.1" height="2.1" rx="0.4" fill="#d07082" stroke="#b0283f" stroke-width="0.9"/>
<rect x="343.45" y="167.45" width="2.1" height="2.1" rx="0.4" fill="#d07082" stroke="#b0283f" stroke-width="0.9"/>
<rect x="347.45" y="165.95" width="2.1" height="2.1" rx="0.4" fill="#d07082" stroke="#b0283f" stroke-width="0.9"/>
<rect x="345.15" y="168.45" width="2.1" height="2.1" rx="0.4" fill="#d07082" stroke="#b0283f" stroke-width="0.9"/>
<rect x="343.45" y="173.95" width="2.1" height="2.1" rx="0.4" fill="#d07082" stroke="#b0283f" stroke-width="0.9"/>
<rect x="346.95" y="175.95" width="2.1" height="2.1" rx="0.4" fill="#d07082" stroke="#b0283f" stroke-width="0.9"/>
<rect x="345.35" y="183.45" width="2.1" height="2.1" rx="0.4" fill="#d07082" stroke="#b0283f" stroke-width="0.9"/>
<path d="M353.80,92.90L357.20,92.90L355.50,89.90Z" fill="#52a03d"/>
<path d="M356.80,92.90L360.20,92.90L358.50,89.90Z" fill="#52a03d"/>
<path d="M355.60,110.40L359.00,110.40L357.30,107.40Z" fill="#52a03d"/>
<path d="M355.70,144.20L359.10,144.20L357.40,141.20Z" fill="#52a03d"/>
<path d="M355.70,152.40L359.10,152.40L357.40,149.40Z" fill="#52a03d"/>
<path d="M355.70,159.40L359.10,159.40L357.40,156.40Z" fill="#52a03d"/>
<path d="M355.70,164.40L359.10,164.40L357.40,161.40Z" fill="#52a03d"/>
<path d="M355.70,167.90L359.10,167.90L357.40,164.90Z" fill="#52a03d"/>
<path d="M355.70,171.90L359.10,171.90L357.40,168.90Z" fill="#52a03d"/>
<path d="M353.30,176.40L356.70,176.40L355.00,173.40Z" fill="#52a03d"/>
<path d="M358.30,176.40L361.70,176.40L360.00,173.40Z" fill="#52a03d"/>
<path d="M353.30,184.90L356.70,184.90L355.00,181.90Z" fill="#52a03d"/>
<path d="M358.30,184.90L361.70,184.90L360.00,181.90Z" fill="#52a03d"/>
<path d="M355.70,187.40L359.10,187.40L357.40,184.40Z" fill="#52a03d"/>
<path d="M355.70,190.90L359.10,190.90L357.40,187.90Z" fill="#52a03d"/>
<path d="M355.70,194.40L359.10,194.40L357.40,191.40Z" fill="#52a03d"/>
<circle cx="374.8" cy="112.2" r="1.3" fill="#1f3d7a"/>
<circle cx="374.8" cy="136.8" r="1.3" fill="#1f3d7a"/>
<circle cx="376" cy="142.2" r="1.3" fill="#1f3d7a"/>
<circle cx="373.5" cy="144.3" r="1.3" fill="#1f3d7a"/>
<circle cx="374.8" cy="149.8" r="1.3" fill="#1f3d7a"/>
<circle cx="373.5" cy="154.5" r="1.3" fill="#1f3d7a"/>
<circle cx="376" cy="155" r="1.3" fill="#1f3d7a"/>
<circle cx="374" cy="157.5" r="1.3" fill="#1f3d7a"/>
<circle cx="376.2" cy="158.4" r="1.3" fill="#1f3d7a"/>
<circle cx="374.6" cy="162" r="1.3" fill="#1f3d7a"/>
<circle cx="373.5" cy="169.5" r="1.3" fill="#1f3d7a"/>
<circle cx="376" cy="169" r="1.3" fill="#1f3d7a"/>
<circle cx="374" cy="172.5" r="1.3" fill="#1f3d7a"/>
<circle cx="376" cy="174" r="1.3" fill="#1f3d7a"/>
<circle cx="372.5" cy="176.5" r="1.3" fill="#1f3d7a"/>
<circle cx="376.5" cy="177" r="1.3" fill="#1f3d7a"/>
<circle cx="372.5" cy="180.5" r="1.3" fill="#1f3d7a"/>
<circle cx="376" cy="181" r="1.3" fill="#1f3d7a"/>
<circle cx="374.6" cy="187" r="1.3" fill="#1f3d7a"/>
<rect x="384.15" y="137.85" width="2.1" height="2.1" rx="0.4" fill="#d07082" stroke="#b0283f" stroke-width="0.9"/>
<rect x="384.15" y="145.25" width="2.1" height="2.1" rx="0.4" fill="#d07082" stroke="#b0283f" stroke-width="0.9"/>
<rect x="384.15" y="150.65" width="2.1" height="2.1" rx="0.4" fill="#d07082" stroke="#b0283f" stroke-width="0.9"/>
<rect x="382.45" y="157.45" width="2.1" height="2.1" rx="0.4" fill="#d07082" stroke="#b0283f" stroke-width="0.9"/>
<rect x="385.35" y="157.45" width="2.1" height="2.1" rx="0.4" fill="#d07082" stroke="#b0283f" stroke-width="0.9"/>
<rect x="383.45" y="159.55" width="2.1" height="2.1" rx="0.4" fill="#d07082" stroke="#b0283f" stroke-width="0.9"/>
<rect x="382.95" y="163.95" width="2.1" height="2.1" rx="0.4" fill="#d07082" stroke="#b0283f" stroke-width="0.9"/>
<rect x="385.55" y="164.45" width="2.1" height="2.1" rx="0.4" fill="#d07082" stroke="#b0283f" stroke-width="0.9"/>
<rect x="382.45" y="168.45" width="2.1" height="2.1" rx="0.4" fill="#d07082" stroke="#b0283f" stroke-width="0.9"/>
<rect x="385.55" y="168.95" width="2.1" height="2.1" rx="0.4" fill="#d07082" stroke="#b0283f" stroke-width="0.9"/>
<rect x="382.95" y="170.95" width="2.1" height="2.1" rx="0.4" fill="#d07082" stroke="#b0283f" stroke-width="0.9"/>
<rect x="384.15" y="176.45" width="2.1" height="2.1" rx="0.4" fill="#d07082" stroke="#b0283f" stroke-width="0.9"/>
<rect x="382.45" y="180.95" width="2.1" height="2.1" rx="0.4" fill="#d07082" stroke="#b0283f" stroke-width="0.9"/>
<rect x="385.95" y="181.45" width="2.1" height="2.1" rx="0.4" fill="#d07082" stroke="#b0283f" stroke-width="0.9"/>
<rect x="382.45" y="183.95" width="2.1" height="2.1" rx="0.4" fill="#d07082" stroke="#b0283f" stroke-width="0.9"/>
<rect x="385.45" y="183.95" width="2.1" height="2.1" rx="0.4" fill="#d07082" stroke="#b0283f" stroke-width="0.9"/>
<rect x="381.95" y="186.95" width="2.1" height="2.1" rx="0.4" fill="#d07082" stroke="#b0283f" stroke-width="0.9"/>
<rect x="384.95" y="187.45" width="2.1" height="2.1" rx="0.4" fill="#d07082" stroke="#b0283f" stroke-width="0.9"/>
<rect x="383.45" y="189.45" width="2.1" height="2.1" rx="0.4" fill="#d07082" stroke="#b0283f" stroke-width="0.9"/>
<rect x="385.95" y="189.95" width="2.1" height="2.1" rx="0.4" fill="#d07082" stroke="#b0283f" stroke-width="0.9"/>
<rect x="384.15" y="192.15" width="2.1" height="2.1" rx="0.4" fill="#d07082" stroke="#b0283f" stroke-width="0.9"/>
<path d="M393.90,103.10L397.30,103.10L395.60,100.10Z" fill="#52a03d"/>
<path d="M393.90,144.80L397.30,144.80L395.60,141.80Z" fill="#52a03d"/>
<path d="M394.10,168.90L397.50,168.90L395.80,165.90Z" fill="#52a03d"/>
<path d="M392.30,176.90L395.70,176.90L394.00,173.90Z" fill="#52a03d"/>
<path d="M395.30,177.40L398.70,177.40L397.00,174.40Z" fill="#52a03d"/>
<path d="M392.30,181.40L395.70,181.40L394.00,178.40Z" fill="#52a03d"/>
<path d="M395.30,182.40L398.70,182.40L397.00,179.40Z" fill="#52a03d"/>
<path d="M391.80,187.40L395.20,187.40L393.50,184.40Z" fill="#52a03d"/>
<path d="M395.30,187.90L398.70,187.90L397.00,184.90Z" fill="#52a03d"/>
<path d="M392.30,191.90L395.70,191.90L394.00,188.90Z" fill="#52a03d"/>
<path d="M395.80,192.40L399.20,192.40L397.50,189.40Z" fill="#52a03d"/>
<path d="M394.10,194.90L397.50,194.90L395.80,191.90Z" fill="#52a03d"/>
<path d="M392.30,196.60L395.70,196.60L394.00,193.60Z" fill="#52a03d"/>
<path d="M395.80,197.00L399.20,197.00L397.50,194.00Z" fill="#52a03d"/>
<circle cx="413" cy="164.5" r="1.3" fill="#1f3d7a"/>
<circle cx="413" cy="169.3" r="1.3" fill="#1f3d7a"/>
<circle cx="411" cy="176" r="1.3" fill="#1f3d7a"/>
<circle cx="415" cy="176.5" r="1.3" fill="#1f3d7a"/>
<circle cx="412" cy="179" r="1.3" fill="#1f3d7a"/>
<circle cx="414.5" cy="179.5" r="1.3" fill="#1f3d7a"/>
<circle cx="411.5" cy="182.5" r="1.3" fill="#1f3d7a"/>
<circle cx="414.5" cy="183" r="1.3" fill="#1f3d7a"/>
<circle cx="411" cy="186.5" r="1.3" fill="#1f3d7a"/>
<circle cx="415" cy="187" r="1.3" fill="#1f3d7a"/>
<circle cx="412" cy="189" r="1.3" fill="#1f3d7a"/>
<circle cx="414.5" cy="190" r="1.3" fill="#1f3d7a"/>
<circle cx="411" cy="191.5" r="1.3" fill="#1f3d7a"/>
<circle cx="415" cy="192" r="1.3" fill="#1f3d7a"/>
<circle cx="413" cy="194.2" r="1.3" fill="#1f3d7a"/>
<rect x="420.45" y="154.95" width="2.1" height="2.1" rx="0.4" fill="#d07082" stroke="#b0283f" stroke-width="0.9"/>
<rect x="423.95" y="154.45" width="2.1" height="2.1" rx="0.4" fill="#d07082" stroke="#b0283f" stroke-width="0.9"/>
<rect x="421.95" y="157.15" width="2.1" height="2.1" rx="0.4" fill="#d07082" stroke="#b0283f" stroke-width="0.9"/>
<rect x="422.45" y="160.45" width="2.1" height="2.1" rx="0.4" fill="#d07082" stroke="#b0283f" stroke-width="0.9"/>
<rect x="420.45" y="164.95" width="2.1" height="2.1" rx="0.4" fill="#d07082" stroke="#b0283f" stroke-width="0.9"/>
<rect x="423.95" y="164.45" width="2.1" height="2.1" rx="0.4" fill="#d07082" stroke="#b0283f" stroke-width="0.9"/>
<rect x="422.45" y="168.95" width="2.1" height="2.1" rx="0.4" fill="#d07082" stroke="#b0283f" stroke-width="0.9"/>
<rect x="420.45" y="174.95" width="2.1" height="2.1" rx="0.4" fill="#d07082" stroke="#b0283f" stroke-width="0.9"/>
<rect x="423.95" y="174.95" width="2.1" height="2.1" rx="0.4" fill="#d07082" stroke="#b0283f" stroke-width="0.9"/>
<rect x="420.45" y="178.45" width="2.1" height="2.1" rx="0.4" fill="#d07082" stroke="#b0283f" stroke-width="0.9"/>
<rect x="424.45" y="177.95" width="2.1" height="2.1" rx="0.4" fill="#d07082" stroke="#b0283f" stroke-width="0.9"/>
<rect x="420.95" y="181.95" width="2.1" height="2.1" rx="0.4" fill="#d07082" stroke="#b0283f" stroke-width="0.9"/>
<rect x="423.95" y="183.95" width="2.1" height="2.1" rx="0.4" fill="#d07082" stroke="#b0283f" stroke-width="0.9"/>
<rect x="420.45" y="187.15" width="2.1" height="2.1" rx="0.4" fill="#d07082" stroke="#b0283f" stroke-width="0.9"/>
<rect x="423.95" y="187.95" width="2.1" height="2.1" rx="0.4" fill="#d07082" stroke="#b0283f" stroke-width="0.9"/>
<rect x="420.95" y="189.75" width="2.1" height="2.1" rx="0.4" fill="#d07082" stroke="#b0283f" stroke-width="0.9"/>
<rect x="423.95" y="190.55" width="2.1" height="2.1" rx="0.4" fill="#d07082" stroke="#b0283f" stroke-width="0.9"/>
<rect x="422.45" y="192.55" width="2.1" height="2.1" rx="0.4" fill="#d07082" stroke="#b0283f" stroke-width="0.9"/>
<path d="M432.30,35.00L435.70,35.00L434.00,32.00Z" fill="#52a03d"/>
<path d="M432.20,154.30L435.60,154.30L433.90,151.30Z" fill="#52a03d"/>
<path d="M432.20,158.90L435.60,158.90L433.90,155.90Z" fill="#52a03d"/>
<path d="M432.20,162.40L435.60,162.40L433.90,159.40Z" fill="#52a03d"/>
<path d="M430.30,165.90L433.70,165.90L432.00,162.90Z" fill="#52a03d"/>
<path d="M433.90,165.90L437.30,165.90L435.60,162.90Z" fill="#52a03d"/>
<path d="M429.80,170.90L433.20,170.90L431.50,167.90Z" fill="#52a03d"/>
<path d="M434.30,171.40L437.70,171.40L436.00,168.40Z" fill="#52a03d"/>
<path d="M430.80,173.60L434.20,173.60L432.50,170.60Z" fill="#52a03d"/>
<path d="M433.80,174.00L437.20,174.00L435.50,171.00Z" fill="#52a03d"/>
<path d="M430.30,177.40L433.70,177.40L432.00,174.40Z" fill="#52a03d"/>
<path d="M434.30,177.90L437.70,177.90L436.00,174.90Z" fill="#52a03d"/>
<path d="M432.20,181.40L435.60,181.40L433.90,178.40Z" fill="#52a03d"/>
<path d="M432.20,184.40L435.60,184.40L433.90,181.40Z" fill="#52a03d"/>
<path d="M429.30,187.90L432.70,187.90L431.00,184.90Z" fill="#52a03d"/>
<path d="M434.80,188.40L438.20,188.40L436.50,185.40Z" fill="#52a03d"/>
<path d="M431.30,190.60L434.70,190.60L433.00,187.60Z" fill="#52a03d"/>
<path d="M433.50,190.60L436.90,190.60L435.20,187.60Z" fill="#52a03d"/>
<circle cx="449.5" cy="173.5" r="1.3" fill="#1f3d7a"/>
<circle cx="453" cy="172" r="1.3" fill="#1f3d7a"/>
<circle cx="451.1" cy="178.5" r="1.3" fill="#1f3d7a"/>
<circle cx="449" cy="180.5" r="1.3" fill="#1f3d7a"/>
<circle cx="453" cy="180" r="1.3" fill="#1f3d7a"/>
<circle cx="449" cy="182.8" r="1.3" fill="#1f3d7a"/>
<circle cx="453" cy="182.8" r="1.3" fill="#1f3d7a"/>
<circle cx="450" cy="184.7" r="1.3" fill="#1f3d7a"/>
<circle cx="453" cy="185.2" r="1.3" fill="#1f3d7a"/>
<circle cx="449" cy="188" r="1.3" fill="#1f3d7a"/>
<circle cx="453" cy="188.5" r="1.3" fill="#1f3d7a"/>
<circle cx="450" cy="190" r="1.3" fill="#1f3d7a"/>
<circle cx="452.2" cy="191" r="1.3" fill="#1f3d7a"/>
<circle cx="451" cy="192.4" r="1.3" fill="#1f3d7a"/>
<circle cx="451.1" cy="195.6" r="1.3" fill="#1f3d7a"/>
<rect x="459.95" y="166.45" width="2.1" height="2.1" rx="0.4" fill="#d07082" stroke="#b0283f" stroke-width="0.9"/>
<rect x="458.45" y="168.95" width="2.1" height="2.1" rx="0.4" fill="#d07082" stroke="#b0283f" stroke-width="0.9"/>
<rect x="461.95" y="169.45" width="2.1" height="2.1" rx="0.4" fill="#d07082" stroke="#b0283f" stroke-width="0.9"/>
<rect x="459.45" y="171.45" width="2.1" height="2.1" rx="0.4" fill="#d07082" stroke="#b0283f" stroke-width="0.9"/>
<rect x="461.95" y="171.95" width="2.1" height="2.1" rx="0.4" fill="#d07082" stroke="#b0283f" stroke-width="0.9"/>
<rect x="458.45" y="173.95" width="2.1" height="2.1" rx="0.4" fill="#d07082" stroke="#b0283f" stroke-width="0.9"/>
<rect x="460.95" y="175.45" width="2.1" height="2.1" rx="0.4" fill="#d07082" stroke="#b0283f" stroke-width="0.9"/>
<rect x="458.95" y="177.95" width="2.1" height="2.1" rx="0.4" fill="#d07082" stroke="#b0283f" stroke-width="0.9"/>
<rect x="461.95" y="177.45" width="2.1" height="2.1" rx="0.4" fill="#d07082" stroke="#b0283f" stroke-width="0.9"/>
<rect x="458.45" y="180.95" width="2.1" height="2.1" rx="0.4" fill="#d07082" stroke="#b0283f" stroke-width="0.9"/>
<rect x="462.45" y="180.95" width="2.1" height="2.1" rx="0.4" fill="#d07082" stroke="#b0283f" stroke-width="0.9"/>
<rect x="458.95" y="183.95" width="2.1" height="2.1" rx="0.4" fill="#d07082" stroke="#b0283f" stroke-width="0.9"/>
<rect x="461.95" y="184.15" width="2.1" height="2.1" rx="0.4" fill="#d07082" stroke="#b0283f" stroke-width="0.9"/>
<rect x="458.45" y="186.95" width="2.1" height="2.1" rx="0.4" fill="#d07082" stroke="#b0283f" stroke-width="0.9"/>
<rect x="461.95" y="187.15" width="2.1" height="2.1" rx="0.4" fill="#d07082" stroke="#b0283f" stroke-width="0.9"/>
<rect x="458.45" y="190.95" width="2.1" height="2.1" rx="0.4" fill="#d07082" stroke="#b0283f" stroke-width="0.9"/>
<rect x="460.95" y="191.95" width="2.1" height="2.1" rx="0.4" fill="#d07082" stroke="#b0283f" stroke-width="0.9"/>
<rect x="462.95" y="191.45" width="2.1" height="2.1" rx="0.4" fill="#d07082" stroke="#b0283f" stroke-width="0.9"/>
<rect x="459.45" y="193.95" width="2.1" height="2.1" rx="0.4" fill="#d07082" stroke="#b0283f" stroke-width="0.9"/>
<rect x="461.95" y="194.45" width="2.1" height="2.1" rx="0.4" fill="#d07082" stroke="#b0283f" stroke-width="0.9"/>
<path d="M470.80,156.40L474.20,156.40L472.50,153.40Z" fill="#52a03d"/>
<path d="M468.80,166.90L472.20,166.90L470.50,163.90Z" fill="#52a03d"/>
<path d="M472.30,167.90L475.70,167.90L474.00,164.90Z" fill="#52a03d"/>
<path d="M471.80,173.90L475.20,173.90L473.50,170.90Z" fill="#52a03d"/>
<path d="M468.30,176.60L471.70,176.60L470.00,173.60Z" fill="#52a03d"/>
<path d="M468.30,181.90L471.70,181.90L470.00,178.90Z" fill="#52a03d"/>
<path d="M472.80,181.40L476.20,181.40L474.50,178.40Z" fill="#52a03d"/>
<path d="M468.30,184.40L471.70,184.40L470.00,181.40Z" fill="#52a03d"/>
<path d="M472.80,184.90L476.20,184.90L474.50,181.90Z" fill="#52a03d"/>
<path d="M468.30,190.90L471.70,190.90L470.00,187.90Z" fill="#52a03d"/>
<path d="M472.30,190.90L475.70,190.90L474.00,187.90Z" fill="#52a03d"/>
<path d="M470.80,193.60L474.20,193.60L472.50,190.60Z" fill="#52a03d"/>
<path d="M472.80,194.00L476.20,194.00L474.50,191.00Z" fill="#52a03d"/>
<path d="M470.80,199.70L474.20,199.70L472.50,196.70Z" fill="#52a03d"/>
<line x1="336.4" y1="115.3" x2="336.4" y2="159.5" stroke="#383838" stroke-width="1.1"/>
<line x1="334.5" y1="115.3" x2="338.29999999999995" y2="115.3" stroke="#231f20" stroke-width="1.3"/>
<line x1="334.5" y1="159.5" x2="338.29999999999995" y2="159.5" stroke="#231f20" stroke-width="1.3"/>
<line x1="332.79999999999995" y1="139.1" x2="340.0" y2="139.1" stroke="#231f20" stroke-width="1.3"/>
<line x1="346.6" y1="133.9" x2="346.6" y2="168.3" stroke="#383838" stroke-width="1.1"/>
<line x1="344.70000000000005" y1="133.9" x2="348.5" y2="133.9" stroke="#231f20" stroke-width="1.3"/>
<line x1="344.70000000000005" y1="168.3" x2="348.5" y2="168.3" stroke="#231f20" stroke-width="1.3"/>
<line x1="343.0" y1="154.7" x2="350.20000000000005" y2="154.7" stroke="#231f20" stroke-width="1.3"/>
<line x1="357.4" y1="153.2" x2="357.4" y2="183.8" stroke="#383838" stroke-width="1.1"/>
<line x1="355.5" y1="153.2" x2="359.29999999999995" y2="153.2" stroke="#231f20" stroke-width="1.3"/>
<line x1="355.5" y1="183.8" x2="359.29999999999995" y2="183.8" stroke="#231f20" stroke-width="1.3"/>
<line x1="353.79999999999995" y1="175.7" x2="361.0" y2="175.7" stroke="#231f20" stroke-width="1.3"/>
<line x1="374.7" y1="151.5" x2="374.7" y2="176.4" stroke="#383838" stroke-width="1.1"/>
<line x1="372.8" y1="151.5" x2="376.59999999999997" y2="151.5" stroke="#231f20" stroke-width="1.3"/>
<line x1="372.8" y1="176.4" x2="376.59999999999997" y2="176.4" stroke="#231f20" stroke-width="1.3"/>
<line x1="371.09999999999997" y1="166.5" x2="378.3" y2="166.5" stroke="#231f20" stroke-width="1.3"/>
<line x1="385.2" y1="161.0" x2="385.2" y2="185.5" stroke="#383838" stroke-width="1.1"/>
<line x1="383.3" y1="161.0" x2="387.09999999999997" y2="161.0" stroke="#231f20" stroke-width="1.3"/>
<line x1="383.3" y1="185.5" x2="387.09999999999997" y2="185.5" stroke="#231f20" stroke-width="1.3"/>
<line x1="381.5" y1="172.7" x2="388.9" y2="172.7" stroke="#231f20" stroke-width="1.3"/>
<line x1="395.8" y1="177.4" x2="395.8" y2="192.0" stroke="#383838" stroke-width="1.1"/>
<line x1="393.90000000000003" y1="177.4" x2="397.7" y2="177.4" stroke="#231f20" stroke-width="1.3"/>
<line x1="393.90000000000003" y1="192.0" x2="397.7" y2="192.0" stroke="#231f20" stroke-width="1.3"/>
<line x1="392.2" y1="188.4" x2="399.40000000000003" y2="188.4" stroke="#231f20" stroke-width="1.3"/>
<line x1="413.0" y1="175.6" x2="413.0" y2="191.5" stroke="#383838" stroke-width="1.1"/>
<line x1="411.1" y1="175.6" x2="414.9" y2="175.6" stroke="#231f20" stroke-width="1.3"/>
<line x1="411.1" y1="191.5" x2="414.9" y2="191.5" stroke="#231f20" stroke-width="1.3"/>
<line x1="409.6" y1="184.1" x2="416.4" y2="184.1" stroke="#231f20" stroke-width="1.3"/>
<line x1="423.4" y1="166.6" x2="423.4" y2="187.8" stroke="#383838" stroke-width="1.1"/>
<line x1="421.5" y1="166.6" x2="425.29999999999995" y2="166.6" stroke="#231f20" stroke-width="1.3"/>
<line x1="421.5" y1="187.8" x2="425.29999999999995" y2="187.8" stroke="#231f20" stroke-width="1.3"/>
<line x1="419.7" y1="178.6" x2="427.09999999999997" y2="178.6" stroke="#231f20" stroke-width="1.3"/>
<line x1="433.9" y1="166.1" x2="433.9" y2="185.1" stroke="#383838" stroke-width="1.1"/>
<line x1="432.0" y1="166.1" x2="435.79999999999995" y2="166.1" stroke="#231f20" stroke-width="1.3"/>
<line x1="432.0" y1="185.1" x2="435.79999999999995" y2="185.1" stroke="#231f20" stroke-width="1.3"/>
<line x1="430.2" y1="172.7" x2="437.59999999999997" y2="172.7" stroke="#231f20" stroke-width="1.3"/>
<line x1="451.1" y1="180.0" x2="451.1" y2="191.5" stroke="#383838" stroke-width="1.1"/>
<line x1="449.20000000000005" y1="180.0" x2="453.0" y2="180.0" stroke="#231f20" stroke-width="1.3"/>
<line x1="449.20000000000005" y1="191.5" x2="453.0" y2="191.5" stroke="#231f20" stroke-width="1.3"/>
<line x1="447.70000000000005" y1="187.0" x2="454.5" y2="187.0" stroke="#231f20" stroke-width="1.3"/>
<line x1="461.4" y1="176.4" x2="461.4" y2="191.3" stroke="#383838" stroke-width="1.1"/>
<line x1="459.5" y1="176.4" x2="463.29999999999995" y2="176.4" stroke="#231f20" stroke-width="1.3"/>
<line x1="459.5" y1="191.3" x2="463.29999999999995" y2="191.3" stroke="#231f20" stroke-width="1.3"/>
<line x1="457.7" y1="183.3" x2="465.09999999999997" y2="183.3" stroke="#231f20" stroke-width="1.3"/>
<line x1="472.5" y1="175.4" x2="472.5" y2="190.8" stroke="#383838" stroke-width="1.1"/>
<line x1="470.6" y1="175.4" x2="474.4" y2="175.4" stroke="#231f20" stroke-width="1.3"/>
<line x1="470.6" y1="190.8" x2="474.4" y2="190.8" stroke="#231f20" stroke-width="1.3"/>
<line x1="468.9" y1="184.5" x2="476.1" y2="184.5" stroke="#231f20" stroke-width="1.3"/>
<circle cx="54.2" cy="453.9" r="1.3" fill="#1f3d7a"/>
<circle cx="57" cy="455.3" r="1.3" fill="#1f3d7a"/>
<circle cx="53" cy="459" r="1.3" fill="#1f3d7a"/>
<circle cx="57" cy="459" r="1.3" fill="#1f3d7a"/>
<circle cx="55.5" cy="458.2" r="1.3" fill="#1f3d7a"/>
<circle cx="54.5" cy="460.6" r="1.3" fill="#1f3d7a"/>
<circle cx="56.8" cy="460.6" r="1.3" fill="#1f3d7a"/>
<rect x="61.75" y="457.95" width="2.1" height="2.1" rx="0.4" fill="#d07082" stroke="#b0283f" stroke-width="0.9"/>
<rect x="64.15" y="457.55" width="2.1" height="2.1" rx="0.4" fill="#d07082" stroke="#b0283f" stroke-width="0.9"/>
<rect x="66.55" y="457.95" width="2.1" height="2.1" rx="0.4" fill="#d07082" stroke="#b0283f" stroke-width="0.9"/>
<rect x="62.45" y="459.55" width="2.1" height="2.1" rx="0.4" fill="#d07082" stroke="#b0283f" stroke-width="0.9"/>
<rect x="65.75" y="459.55" width="2.1" height="2.1" rx="0.4" fill="#d07082" stroke="#b0283f" stroke-width="0.9"/>
<rect x="64.15" y="460.55" width="2.1" height="2.1" rx="0.4" fill="#d07082" stroke="#b0283f" stroke-width="0.9"/>
<path d="M70.80,459.60L74.20,459.60L72.50,456.60Z" fill="#52a03d"/>
<path d="M74.80,459.60L78.20,459.60L76.50,456.60Z" fill="#52a03d"/>
<path d="M72.90,460.90L76.30,460.90L74.60,457.90Z" fill="#52a03d"/>
<path d="M70.80,462.00L74.20,462.00L72.50,459.00Z" fill="#52a03d"/>
<path d="M74.90,462.00L78.30,462.00L76.60,459.00Z" fill="#52a03d"/>
<circle cx="90.4" cy="349" r="1.3" fill="#1f3d7a"/>
<circle cx="90.4" cy="352.3" r="1.3" fill="#1f3d7a"/>
<circle cx="90.4" cy="356.2" r="1.3" fill="#1f3d7a"/>
<circle cx="90.4" cy="363" r="1.3" fill="#1f3d7a"/>
<circle cx="89" cy="366" r="1.3" fill="#1f3d7a"/>
<circle cx="91.5" cy="364" r="1.3" fill="#1f3d7a"/>
<circle cx="90.4" cy="373" r="1.3" fill="#1f3d7a"/>
<circle cx="89" cy="385" r="1.3" fill="#1f3d7a"/>
<circle cx="91.5" cy="385.5" r="1.3" fill="#1f3d7a"/>
<circle cx="89" cy="395" r="1.3" fill="#1f3d7a"/>
<circle cx="91.5" cy="395.5" r="1.3" fill="#1f3d7a"/>
<circle cx="90" cy="398" r="1.3" fill="#1f3d7a"/>
<circle cx="91.5" cy="398.5" r="1.3" fill="#1f3d7a"/>
<circle cx="90.5" cy="406" r="1.3" fill="#1f3d7a"/>
<circle cx="90.5" cy="415.5" r="1.3" fill="#1f3d7a"/>
<circle cx="89.2" cy="417.3" r="1.3" fill="#1f3d7a"/>
<circle cx="91.8" cy="419.2" r="1.3" fill="#1f3d7a"/>
<circle cx="90.3" cy="427" r="1.3" fill="#1f3d7a"/>
<rect x="99.15" y="344.95" width="2.1" height="2.1" rx="0.4" fill="#d07082" stroke="#b0283f" stroke-width="0.9"/>
<rect x="99.15" y="355.15" width="2.1" height="2.1" rx="0.4" fill="#d07082" stroke="#b0283f" stroke-width="0.9"/>
<rect x="99.15" y="359.45" width="2.1" height="2.1" rx="0.4" fill="#d07082" stroke="#b0283f" stroke-width="0.9"/>
<rect x="99.15" y="361.95" width="2.1" height="2.1" rx="0.4" fill="#d07082" stroke="#b0283f" stroke-width="0.9"/>
<rect x="99.15" y="364.45" width="2.1" height="2.1" rx="0.4" fill="#d07082" stroke="#b0283f" stroke-width="0.9"/>
<rect x="97.45" y="370.45" width="2.1" height="2.1" rx="0.4" fill="#d07082" stroke="#b0283f" stroke-width="0.9"/>
<rect x="100.45" y="370.45" width="2.1" height="2.1" rx="0.4" fill="#d07082" stroke="#b0283f" stroke-width="0.9"/>
<rect x="99.15" y="374.95" width="2.1" height="2.1" rx="0.4" fill="#d07082" stroke="#b0283f" stroke-width="0.9"/>
<rect x="97.45" y="379.45" width="2.1" height="2.1" rx="0.4" fill="#d07082" stroke="#b0283f" stroke-width="0.9"/>
<rect x="100.45" y="379.45" width="2.1" height="2.1" rx="0.4" fill="#d07082" stroke="#b0283f" stroke-width="0.9"/>
<rect x="99.15" y="382.95" width="2.1" height="2.1" rx="0.4" fill="#d07082" stroke="#b0283f" stroke-width="0.9"/>
<rect x="96.95" y="388.45" width="2.1" height="2.1" rx="0.4" fill="#d07082" stroke="#b0283f" stroke-width="0.9"/>
<rect x="100.95" y="387.95" width="2.1" height="2.1" rx="0.4" fill="#d07082" stroke="#b0283f" stroke-width="0.9"/>
<rect x="97.45" y="390.75" width="2.1" height="2.1" rx="0.4" fill="#d07082" stroke="#b0283f" stroke-width="0.9"/>
<rect x="100.45" y="391.75" width="2.1" height="2.1" rx="0.4" fill="#d07082" stroke="#b0283f" stroke-width="0.9"/>
<rect x="98.95" y="389.45" width="2.1" height="2.1" rx="0.4" fill="#d07082" stroke="#b0283f" stroke-width="0.9"/>
<rect x="100.95" y="391.95" width="2.1" height="2.1" rx="0.4" fill="#d07082" stroke="#b0283f" stroke-width="0.9"/>
<rect x="98.95" y="411.65" width="2.1" height="2.1" rx="0.4" fill="#d07082" stroke="#b0283f" stroke-width="0.9"/>
<rect x="97.55" y="421.35" width="2.1" height="2.1" rx="0.4" fill="#d07082" stroke="#b0283f" stroke-width="0.9"/>
<rect x="100.25" y="423.65" width="2.1" height="2.1" rx="0.4" fill="#d07082" stroke="#b0283f" stroke-width="0.9"/>
<rect x="98.85" y="442.35" width="2.1" height="2.1" rx="0.4" fill="#d07082" stroke="#b0283f" stroke-width="0.9"/>
<path d="M108.00,351.60L111.40,351.60L109.70,348.60Z" fill="#52a03d"/>
<path d="M105.80,364.40L109.20,364.40L107.50,361.40Z" fill="#52a03d"/>
<path d="M110.30,365.90L113.70,365.90L112.00,362.90Z" fill="#52a03d"/>
<path d="M108.30,367.40L111.70,367.40L110.00,364.40Z" fill="#52a03d"/>
<path d="M106.30,369.40L109.70,369.40L108.00,366.40Z" fill="#52a03d"/>
<path d="M109.30,371.90L112.70,371.90L111.00,368.90Z" fill="#52a03d"/>
<path d="M106.80,374.90L110.20,374.90L108.50,371.90Z" fill="#52a03d"/>
<path d="M109.80,374.90L113.20,374.90L111.50,371.90Z" fill="#52a03d"/>
<path d="M108.00,380.40L111.40,380.40L109.70,377.40Z" fill="#52a03d"/>
<path d="M105.80,386.90L109.20,386.90L107.50,383.90Z" fill="#52a03d"/>
<path d="M109.80,386.40L113.20,386.40L111.50,383.40Z" fill="#52a03d"/>
<path d="M106.80,389.90L110.20,389.90L108.50,386.90Z" fill="#52a03d"/>
<path d="M109.30,390.90L112.70,390.90L111.00,387.90Z" fill="#52a03d"/>
<path d="M106.60,396.80L110.00,396.80L108.30,393.80Z" fill="#52a03d"/>
<path d="M109.30,394.90L112.70,394.90L111.00,391.90Z" fill="#52a03d"/>
<path d="M108.10,403.90L111.50,403.90L109.80,400.90Z" fill="#52a03d"/>
<path d="M106.60,416.60L110.00,416.60L108.30,413.60Z" fill="#52a03d"/>
<path d="M109.50,415.90L112.90,415.90L111.20,412.90Z" fill="#52a03d"/>
<circle cx="123.8" cy="347.8" r="1.3" fill="#1f3d7a"/>
<circle cx="126.5" cy="348.2" r="1.3" fill="#1f3d7a"/>
<circle cx="125.2" cy="351.5" r="1.3" fill="#1f3d7a"/>
<circle cx="125.2" cy="358.5" r="1.3" fill="#1f3d7a"/>
<circle cx="124" cy="363.5" r="1.3" fill="#1f3d7a"/>
<circle cx="126.5" cy="362" r="1.3" fill="#1f3d7a"/>
<circle cx="124" cy="379.5" r="1.3" fill="#1f3d7a"/>
<circle cx="126.5" cy="380" r="1.3" fill="#1f3d7a"/>
<circle cx="125.2" cy="385.5" r="1.3" fill="#1f3d7a"/>
<circle cx="123.5" cy="391.5" r="1.3" fill="#1f3d7a"/>
<circle cx="127.5" cy="393.5" r="1.3" fill="#1f3d7a"/>
<circle cx="123" cy="396.5" r="1.3" fill="#1f3d7a"/>
<circle cx="127" cy="396.5" r="1.3" fill="#1f3d7a"/>
<circle cx="125.2" cy="398.8" r="1.3" fill="#1f3d7a"/>
<circle cx="125.5" cy="413.5" r="1.3" fill="#1f3d7a"/>
<circle cx="124" cy="417" r="1.3" fill="#1f3d7a"/>
<circle cx="126.8" cy="419.8" r="1.3" fill="#1f3d7a"/>
<circle cx="125.3" cy="427.5" r="1.3" fill="#1f3d7a"/>
<rect x="133.95" y="350.75" width="2.1" height="2.1" rx="0.4" fill="#d07082" stroke="#b0283f" stroke-width="0.9"/>
<rect x="133.95" y="353.45" width="2.1" height="2.1" rx="0.4" fill="#d07082" stroke="#b0283f" stroke-width="0.9"/>
<rect x="133.95" y="356.45" width="2.1" height="2.1" rx="0.4" fill="#d07082" stroke="#b0283f" stroke-width="0.9"/>
<rect x="133.95" y="359.45" width="2.1" height="2.1" rx="0.4" fill="#d07082" stroke="#b0283f" stroke-width="0.9"/>
<rect x="133.95" y="368.45" width="2.1" height="2.1" rx="0.4" fill="#d07082" stroke="#b0283f" stroke-width="0.9"/>
<rect x="132.45" y="370.95" width="2.1" height="2.1" rx="0.4" fill="#d07082" stroke="#b0283f" stroke-width="0.9"/>
<rect x="135.95" y="371.95" width="2.1" height="2.1" rx="0.4" fill="#d07082" stroke="#b0283f" stroke-width="0.9"/>
<rect x="134.45" y="374.45" width="2.1" height="2.1" rx="0.4" fill="#d07082" stroke="#b0283f" stroke-width="0.9"/>
<rect x="132.45" y="378.95" width="2.1" height="2.1" rx="0.4" fill="#d07082" stroke="#b0283f" stroke-width="0.9"/>
<rect x="135.95" y="379.95" width="2.1" height="2.1" rx="0.4" fill="#d07082" stroke="#b0283f" stroke-width="0.9"/>
<rect x="131.95" y="382.45" width="2.1" height="2.1" rx="0.4" fill="#d07082" stroke="#b0283f" stroke-width="0.9"/>
<rect x="133.95" y="383.95" width="2.1" height="2.1" rx="0.4" fill="#d07082" stroke="#b0283f" stroke-width="0.9"/>
<rect x="133.95" y="388.95" width="2.1" height="2.1" rx="0.4" fill="#d07082" stroke="#b0283f" stroke-width="0.9"/>
<rect x="134.15" y="393.75" width="2.1" height="2.1" rx="0.4" fill="#d07082" stroke="#b0283f" stroke-width="0.9"/>
<rect x="134.15" y="417.65" width="2.1" height="2.1" rx="0.4" fill="#d07082" stroke="#b0283f" stroke-width="0.9"/>
<rect x="134.15" y="425.45" width="2.1" height="2.1" rx="0.4" fill="#d07082" stroke="#b0283f" stroke-width="0.9"/>
<rect x="134.15" y="431.95" width="2.1" height="2.1" rx="0.4" fill="#d07082" stroke="#b0283f" stroke-width="0.9"/>
<path d="M143.10,346.90L146.50,346.90L144.80,343.90Z" fill="#52a03d"/>
<path d="M144.50,360.40L147.90,360.40L146.20,357.40Z" fill="#52a03d"/>
<path d="M141.80,362.90L145.20,362.90L143.50,359.90Z" fill="#52a03d"/>
<path d="M143.30,366.40L146.70,366.40L145.00,363.40Z" fill="#52a03d"/>
<path d="M143.30,368.90L146.70,368.90L145.00,365.90Z" fill="#52a03d"/>
<path d="M141.80,377.90L145.20,377.90L143.50,374.90Z" fill="#52a03d"/>
<path d="M144.30,378.40L147.70,378.40L146.00,375.40Z" fill="#52a03d"/>
<path d="M143.30,383.90L146.70,383.90L145.00,380.90Z" fill="#52a03d"/>
<path d="M142.30,390.90L145.70,390.90L144.00,387.90Z" fill="#52a03d"/>
<path d="M144.80,391.40L148.20,391.40L146.50,388.40Z" fill="#52a03d"/>
<path d="M142.30,394.40L145.70,394.40L144.00,391.40Z" fill="#52a03d"/>
<path d="M144.30,395.40L147.70,395.40L146.00,392.40Z" fill="#52a03d"/>
<path d="M142.80,398.40L146.20,398.40L144.50,395.40Z" fill="#52a03d"/>
<path d="M144.60,403.90L148.00,403.90L146.30,400.90Z" fill="#52a03d"/>
<path d="M141.80,406.40L145.20,406.40L143.50,403.40Z" fill="#52a03d"/>
<path d="M141.80,410.40L145.20,410.40L143.50,407.40Z" fill="#52a03d"/>
<path d="M144.30,411.40L147.70,411.40L146.00,408.40Z" fill="#52a03d"/>
<path d="M142.90,415.90L146.30,415.90L144.60,412.90Z" fill="#52a03d"/>
<circle cx="160.3" cy="440.2" r="1.3" fill="#1f3d7a"/>
<circle cx="160.5" cy="453.5" r="1.3" fill="#1f3d7a"/>
<circle cx="159" cy="455" r="1.3" fill="#1f3d7a"/>
<circle cx="161.5" cy="457" r="1.3" fill="#1f3d7a"/>
<circle cx="160" cy="460" r="1.3" fill="#1f3d7a"/>
<rect x="166.95" y="454.95" width="2.1" height="2.1" rx="0.4" fill="#d07082" stroke="#b0283f" stroke-width="0.9"/>
<rect x="169.45" y="454.55" width="2.1" height="2.1" rx="0.4" fill="#d07082" stroke="#b0283f" stroke-width="0.9"/>
<rect x="171.45" y="455.45" width="2.1" height="2.1" rx="0.4" fill="#d07082" stroke="#b0283f" stroke-width="0.9"/>
<rect x="167.45" y="457.45" width="2.1" height="2.1" rx="0.4" fill="#d07082" stroke="#b0283f" stroke-width="0.9"/>
<rect x="170.45" y="457.75" width="2.1" height="2.1" rx="0.4" fill="#d07082" stroke="#b0283f" stroke-width="0.9"/>
<rect x="168.95" y="459.45" width="2.1" height="2.1" rx="0.4" fill="#d07082" stroke="#b0283f" stroke-width="0.9"/>
<path d="M177.80,454.40L181.20,454.40L179.50,451.40Z" fill="#52a03d"/>
<path d="M176.30,457.40L179.70,457.40L178.00,454.40Z" fill="#52a03d"/>
<path d="M179.80,458.90L183.20,458.90L181.50,455.90Z" fill="#52a03d"/>
<path d="M176.80,460.90L180.20,460.90L178.50,457.90Z" fill="#52a03d"/>
<path d="M178.80,461.90L182.20,461.90L180.50,458.90Z" fill="#52a03d"/>
<circle cx="195.2" cy="300" r="1.3" fill="#1f3d7a"/>
<circle cx="195.2" cy="339.2" r="1.3" fill="#1f3d7a"/>
<circle cx="195.3" cy="357.2" r="1.3" fill="#1f3d7a"/>
<circle cx="193.8" cy="369" r="1.3" fill="#1f3d7a"/>
<circle cx="196.8" cy="368.5" r="1.3" fill="#1f3d7a"/>
<circle cx="195.5" cy="372.5" r="1.3" fill="#1f3d7a"/>
<circle cx="196.5" cy="374.5" r="1.3" fill="#1f3d7a"/>
<circle cx="194" cy="377" r="1.3" fill="#1f3d7a"/>
<circle cx="195.3" cy="388" r="1.3" fill="#1f3d7a"/>
<circle cx="193.5" cy="391" r="1.3" fill="#1f3d7a"/>
<circle cx="197" cy="392" r="1.3" fill="#1f3d7a"/>
<circle cx="194.5" cy="394" r="1.3" fill="#1f3d7a"/>
<circle cx="196.8" cy="394.5" r="1.3" fill="#1f3d7a"/>
<circle cx="194" cy="400.5" r="1.3" fill="#1f3d7a"/>
<circle cx="196.5" cy="400" r="1.3" fill="#1f3d7a"/>
<circle cx="195.5" cy="414.5" r="1.3" fill="#1f3d7a"/>
<circle cx="197" cy="416" r="1.3" fill="#1f3d7a"/>
<circle cx="194" cy="418" r="1.3" fill="#1f3d7a"/>
<circle cx="195.3" cy="422" r="1.3" fill="#1f3d7a"/>
<circle cx="195.3" cy="429" r="1.3" fill="#1f3d7a"/>
<rect x="203.75" y="358.25" width="2.1" height="2.1" rx="0.4" fill="#d07082" stroke="#b0283f" stroke-width="0.9"/>
<rect x="203.75" y="366.55" width="2.1" height="2.1" rx="0.4" fill="#d07082" stroke="#b0283f" stroke-width="0.9"/>
<rect x="203.75" y="369.95" width="2.1" height="2.1" rx="0.4" fill="#d07082" stroke="#b0283f" stroke-width="0.9"/>
<rect x="203.75" y="378.65" width="2.1" height="2.1" rx="0.4" fill="#d07082" stroke="#b0283f" stroke-width="0.9"/>
<rect x="202.45" y="389.45" width="2.1" height="2.1" rx="0.4" fill="#d07082" stroke="#b0283f" stroke-width="0.9"/>
<rect x="205.95" y="390.95" width="2.1" height="2.1" rx="0.4" fill="#d07082" stroke="#b0283f" stroke-width="0.9"/>
<rect x="203.75" y="399.95" width="2.1" height="2.1" rx="0.4" fill="#d07082" stroke="#b0283f" stroke-width="0.9"/>
<rect x="202.45" y="403.45" width="2.1" height="2.1" rx="0.4" fill="#d07082" stroke="#b0283f" stroke-width="0.9"/>
<rect x="205.45" y="404.95" width="2.1" height="2.1" rx="0.4" fill="#d07082" stroke="#b0283f" stroke-width="0.9"/>
<rect x="203.75" y="421.95" width="2.1" height="2.1" rx="0.4" fill="#d07082" stroke="#b0283f" stroke-width="0.9"/>
<rect x="201.95" y="424.45" width="2.1" height="2.1" rx="0.4" fill="#d07082" stroke="#b0283f" stroke-width="0.9"/>
<rect x="205.45" y="424.45" width="2.1" height="2.1" rx="0.4" fill="#d07082" stroke="#b0283f" stroke-width="0.9"/>
<rect x="202.45" y="432.45" width="2.1" height="2.1" rx="0.4" fill="#d07082" stroke="#b0283f" stroke-width="0.9"/>
<rect x="204.95" y="433.45" width="2.1" height="2.1" rx="0.4" fill="#d07082" stroke="#b0283f" stroke-width="0.9"/>
<rect x="203.45" y="435.95" width="2.1" height="2.1" rx="0.4" fill="#d07082" stroke="#b0283f" stroke-width="0.9"/>
<rect x="201.95" y="439.95" width="2.1" height="2.1" rx="0.4" fill="#d07082" stroke="#b0283f" stroke-width="0.9"/>
<rect x="204.95" y="439.45" width="2.1" height="2.1" rx="0.4" fill="#d07082" stroke="#b0283f" stroke-width="0.9"/>
<path d="M212.80,299.10L216.20,299.10L214.50,296.10Z" fill="#52a03d"/>
<path d="M212.60,368.80L216.00,368.80L214.30,365.80Z" fill="#52a03d"/>
<path d="M212.60,391.70L216.00,391.70L214.30,388.70Z" fill="#52a03d"/>
<path d="M214.30,396.20L217.70,396.20L216.00,393.20Z" fill="#52a03d"/>
<path d="M211.30,398.90L214.70,398.90L213.00,395.90Z" fill="#52a03d"/>
<path d="M213.80,407.40L217.20,407.40L215.50,404.40Z" fill="#52a03d"/>
<path d="M210.80,408.90L214.20,408.90L212.50,405.90Z" fill="#52a03d"/>
<path d="M209.80,410.90L213.20,410.90L211.50,407.90Z" fill="#52a03d"/>
<path d="M211.30,413.90L214.70,413.90L213.00,410.90Z" fill="#52a03d"/>
<path d="M213.30,415.90L216.70,415.90L215.00,412.90Z" fill="#52a03d"/>
<path d="M212.40,421.40L215.80,421.40L214.10,418.40Z" fill="#52a03d"/>
<path d="M212.40,427.90L215.80,427.90L214.10,424.90Z" fill="#52a03d"/>
<path d="M210.80,441.40L214.20,441.40L212.50,438.40Z" fill="#52a03d"/>
<path d="M213.80,442.40L217.20,442.40L215.50,439.40Z" fill="#52a03d"/>
<path d="M210.80,446.40L214.20,446.40L212.50,443.40Z" fill="#52a03d"/>
<path d="M213.30,445.40L216.70,445.40L215.00,442.40Z" fill="#52a03d"/>
<line x1="52.3" y1="459.7" x2="58.7" y2="459.7" stroke="#231f20" stroke-width="1.3"/>
<line x1="61.800000000000004" y1="459.8" x2="68.60000000000001" y2="459.8" stroke="#231f20" stroke-width="1.3"/>
<line x1="71.19999999999999" y1="460.0" x2="78.0" y2="460.0" stroke="#231f20" stroke-width="1.3"/>
<line x1="90.4" y1="365.2" x2="90.4" y2="404.4" stroke="#383838" stroke-width="1.1"/>
<line x1="88.5" y1="365.2" x2="92.30000000000001" y2="365.2" stroke="#231f20" stroke-width="1.3"/>
<line x1="88.5" y1="404.4" x2="92.30000000000001" y2="404.4" stroke="#231f20" stroke-width="1.3"/>
<line x1="86.80000000000001" y1="389.4" x2="94.0" y2="389.4" stroke="#231f20" stroke-width="1.3"/>
<line x1="100.1" y1="368.0" x2="100.1" y2="392.2" stroke="#383838" stroke-width="1.1"/>
<line x1="98.19999999999999" y1="368.0" x2="102.0" y2="368.0" stroke="#231f20" stroke-width="1.3"/>
<line x1="98.19999999999999" y1="392.2" x2="102.0" y2="392.2" stroke="#231f20" stroke-width="1.3"/>
<line x1="96.3" y1="381.6" x2="103.89999999999999" y2="381.6" stroke="#231f20" stroke-width="1.3"/>
<line x1="109.7" y1="366.0" x2="109.7" y2="391.7" stroke="#383838" stroke-width="1.1"/>
<line x1="107.8" y1="366.0" x2="111.60000000000001" y2="366.0" stroke="#231f20" stroke-width="1.3"/>
<line x1="107.8" y1="391.7" x2="111.60000000000001" y2="391.7" stroke="#231f20" stroke-width="1.3"/>
<line x1="105.9" y1="376.3" x2="113.5" y2="376.3" stroke="#231f20" stroke-width="1.3"/>
<line x1="125.2" y1="361.9" x2="125.2" y2="398.6" stroke="#383838" stroke-width="1.1"/>
<line x1="123.3" y1="361.9" x2="127.10000000000001" y2="361.9" stroke="#231f20" stroke-width="1.3"/>
<line x1="123.3" y1="398.6" x2="127.10000000000001" y2="398.6" stroke="#231f20" stroke-width="1.3"/>
<line x1="121.60000000000001" y1="390.5" x2="128.8" y2="390.5" stroke="#231f20" stroke-width="1.3"/>
<line x1="135.1" y1="374.0" x2="135.1" y2="393.4" stroke="#383838" stroke-width="1.1"/>
<line x1="133.2" y1="374.0" x2="137.0" y2="374.0" stroke="#231f20" stroke-width="1.3"/>
<line x1="133.2" y1="393.4" x2="137.0" y2="393.4" stroke="#231f20" stroke-width="1.3"/>
<line x1="131.29999999999998" y1="378.4" x2="138.9" y2="378.4" stroke="#231f20" stroke-width="1.3"/>
<line x1="144.8" y1="367.6" x2="144.8" y2="400.6" stroke="#383838" stroke-width="1.1"/>
<line x1="142.9" y1="367.6" x2="146.70000000000002" y2="367.6" stroke="#231f20" stroke-width="1.3"/>
<line x1="142.9" y1="400.6" x2="146.70000000000002" y2="400.6" stroke="#231f20" stroke-width="1.3"/>
<line x1="141.0" y1="379.5" x2="148.60000000000002" y2="379.5" stroke="#231f20" stroke-width="1.3"/>
<line x1="157.0" y1="458.6" x2="163.8" y2="458.6" stroke="#231f20" stroke-width="1.3"/>
<line x1="166.8" y1="458.8" x2="173.2" y2="458.8" stroke="#231f20" stroke-width="1.3"/>
<line x1="176.4" y1="459.0" x2="182.79999999999998" y2="459.0" stroke="#231f20" stroke-width="1.3"/>
<line x1="195.3" y1="369.8" x2="195.3" y2="411.2" stroke="#383838" stroke-width="1.1"/>
<line x1="193.4" y1="369.8" x2="197.20000000000002" y2="369.8" stroke="#231f20" stroke-width="1.3"/>
<line x1="193.4" y1="411.2" x2="197.20000000000002" y2="411.2" stroke="#231f20" stroke-width="1.3"/>
<line x1="191.70000000000002" y1="390.9" x2="198.9" y2="390.9" stroke="#231f20" stroke-width="1.3"/>
<line x1="204.8" y1="391.0" x2="204.8" y2="431.7" stroke="#383838" stroke-width="1.1"/>
<line x1="202.9" y1="391.0" x2="206.70000000000002" y2="391.0" stroke="#231f20" stroke-width="1.3"/>
<line x1="202.9" y1="431.7" x2="206.70000000000002" y2="431.7" stroke="#231f20" stroke-width="1.3"/>
<line x1="201.0" y1="413.3" x2="208.60000000000002" y2="413.3" stroke="#231f20" stroke-width="1.3"/>
<line x1="214.2" y1="399.4" x2="214.2" y2="440.3" stroke="#383838" stroke-width="1.1"/>
<line x1="212.29999999999998" y1="399.4" x2="216.1" y2="399.4" stroke="#231f20" stroke-width="1.3"/>
<line x1="212.29999999999998" y1="440.3" x2="216.1" y2="440.3" stroke="#231f20" stroke-width="1.3"/>
<line x1="210.6" y1="413.1" x2="217.79999999999998" y2="413.1" stroke="#231f20" stroke-width="1.3"/>
<circle cx="336.1" cy="349.3" r="1.3" fill="#1f3d7a"/>
<circle cx="334.8" cy="357.8" r="1.3" fill="#1f3d7a"/>
<circle cx="337.5" cy="357.5" r="1.3" fill="#1f3d7a"/>
<circle cx="336.1" cy="362.5" r="1.3" fill="#1f3d7a"/>
<circle cx="336.1" cy="368.5" r="1.3" fill="#1f3d7a"/>
<circle cx="334.5" cy="373.5" r="1.3" fill="#1f3d7a"/>
<circle cx="337" cy="376" r="1.3" fill="#1f3d7a"/>
<circle cx="336.1" cy="382.5" r="1.3" fill="#1f3d7a"/>
<circle cx="334.5" cy="385" r="1.3" fill="#1f3d7a"/>
<circle cx="337" cy="387" r="1.3" fill="#1f3d7a"/>
<circle cx="334" cy="395.5" r="1.3" fill="#1f3d7a"/>
<circle cx="338.5" cy="394.5" r="1.3" fill="#1f3d7a"/>
<circle cx="335.5" cy="397" r="1.3" fill="#1f3d7a"/>
<circle cx="337.5" cy="398" r="1.3" fill="#1f3d7a"/>
<circle cx="337.5" cy="400.5" r="1.3" fill="#1f3d7a"/>
<circle cx="335.5" cy="415.6" r="1.3" fill="#1f3d7a"/>
<circle cx="338" cy="415.6" r="1.3" fill="#1f3d7a"/>
<circle cx="336" cy="420.5" r="1.3" fill="#1f3d7a"/>
<circle cx="336" cy="425" r="1.3" fill="#1f3d7a"/>
<rect x="345.35" y="351.25" width="2.1" height="2.1" rx="0.4" fill="#d07082" stroke="#b0283f" stroke-width="0.9"/>
<rect x="345.35" y="355.65" width="2.1" height="2.1" rx="0.4" fill="#d07082" stroke="#b0283f" stroke-width="0.9"/>
<rect x="343.75" y="368.75" width="2.1" height="2.1" rx="0.4" fill="#d07082" stroke="#b0283f" stroke-width="0.9"/>
<rect x="345.95" y="369.95" width="2.1" height="2.1" rx="0.4" fill="#d07082" stroke="#b0283f" stroke-width="0.9"/>
<rect x="347.95" y="369.45" width="2.1" height="2.1" rx="0.4" fill="#d07082" stroke="#b0283f" stroke-width="0.9"/>
<rect x="345.45" y="375.45" width="2.1" height="2.1" rx="0.4" fill="#d07082" stroke="#b0283f" stroke-width="0.9"/>
<rect x="346.95" y="375.95" width="2.1" height="2.1" rx="0.4" fill="#d07082" stroke="#b0283f" stroke-width="0.9"/>
<rect x="343.95" y="379.45" width="2.1" height="2.1" rx="0.4" fill="#d07082" stroke="#b0283f" stroke-width="0.9"/>
<rect x="346.45" y="379.95" width="2.1" height="2.1" rx="0.4" fill="#d07082" stroke="#b0283f" stroke-width="0.9"/>
<rect x="343.95" y="386.95" width="2.1" height="2.1" rx="0.4" fill="#d07082" stroke="#b0283f" stroke-width="0.9"/>
<rect x="346.45" y="387.45" width="2.1" height="2.1" rx="0.4" fill="#d07082" stroke="#b0283f" stroke-width="0.9"/>
<rect x="345.45" y="391.45" width="2.1" height="2.1" rx="0.4" fill="#d07082" stroke="#b0283f" stroke-width="0.9"/>
<rect x="345.35" y="398.45" width="2.1" height="2.1" rx="0.4" fill="#d07082" stroke="#b0283f" stroke-width="0.9"/>
<rect x="345.35" y="415.45" width="2.1" height="2.1" rx="0.4" fill="#d07082" stroke="#b0283f" stroke-width="0.9"/>
<rect x="343.95" y="424.45" width="2.1" height="2.1" rx="0.4" fill="#d07082" stroke="#b0283f" stroke-width="0.9"/>
<rect x="346.95" y="422.95" width="2.1" height="2.1" rx="0.4" fill="#d07082" stroke="#b0283f" stroke-width="0.9"/>
<path d="M354.30,352.60L357.70,352.60L356.00,349.60Z" fill="#52a03d"/>
<path d="M356.80,352.60L360.20,352.60L358.50,349.60Z" fill="#52a03d"/>
<path d="M355.70,356.40L359.10,356.40L357.40,353.40Z" fill="#52a03d"/>
<path d="M355.70,368.20L359.10,368.20L357.40,365.20Z" fill="#52a03d"/>
<path d="M353.30,371.90L356.70,371.90L355.00,368.90Z" fill="#52a03d"/>
<path d="M355.80,373.40L359.20,373.40L357.50,370.40Z" fill="#52a03d"/>
<path d="M358.30,372.40L361.70,372.40L360.00,369.40Z" fill="#52a03d"/>
<path d="M353.30,388.90L356.70,388.90L355.00,385.90Z" fill="#52a03d"/>
<path d="M357.30,390.40L360.70,390.40L359.00,387.40Z" fill="#52a03d"/>
<path d="M354.30,392.90L357.70,392.90L356.00,389.90Z" fill="#52a03d"/>
<path d="M356.80,393.90L360.20,393.90L358.50,390.90Z" fill="#52a03d"/>
<path d="M356.80,396.40L360.20,396.40L358.50,393.40Z" fill="#52a03d"/>
<path d="M354.30,406.60L357.70,406.60L356.00,403.60Z" fill="#52a03d"/>
<path d="M357.30,406.60L360.70,406.60L359.00,403.60Z" fill="#52a03d"/>
<path d="M355.70,417.90L359.10,417.90L357.40,414.90Z" fill="#52a03d"/>
<path d="M355.70,422.90L359.10,422.90L357.40,419.90Z" fill="#52a03d"/>
<circle cx="374.4" cy="346.3" r="1.3" fill="#1f3d7a"/>
<circle cx="374.4" cy="355.5" r="1.3" fill="#1f3d7a"/>
<circle cx="373.5" cy="360.5" r="1.3" fill="#1f3d7a"/>
<circle cx="375.5" cy="361.5" r="1.3" fill="#1f3d7a"/>
<circle cx="373" cy="363.5" r="1.3" fill="#1f3d7a"/>
<circle cx="372.5" cy="367.5" r="1.3" fill="#1f3d7a"/>
<circle cx="376" cy="370" r="1.3" fill="#1f3d7a"/>
<circle cx="374.4" cy="376.5" r="1.3" fill="#1f3d7a"/>
<circle cx="374.4" cy="383.5" r="1.3" fill="#1f3d7a"/>
<circle cx="374.4" cy="386.5" r="1.3" fill="#1f3d7a"/>
<circle cx="373" cy="396.5" r="1.3" fill="#1f3d7a"/>
<circle cx="376" cy="397" r="1.3" fill="#1f3d7a"/>
<circle cx="372.5" cy="399" r="1.3" fill="#1f3d7a"/>
<circle cx="377" cy="400.5" r="1.3" fill="#1f3d7a"/>
<circle cx="374.5" cy="402.5" r="1.3" fill="#1f3d7a"/>
<circle cx="374.6" cy="408" r="1.3" fill="#1f3d7a"/>
<circle cx="374.6" cy="416" r="1.3" fill="#1f3d7a"/>
<circle cx="376" cy="421" r="1.3" fill="#1f3d7a"/>
<circle cx="373.5" cy="423.5" r="1.3" fill="#1f3d7a"/>
<rect x="382.45" y="351.45" width="2.1" height="2.1" rx="0.4" fill="#d07082" stroke="#b0283f" stroke-width="0.9"/>
<rect x="384.45" y="351.45" width="2.1" height="2.1" rx="0.4" fill="#d07082" stroke="#b0283f" stroke-width="0.9"/>
<rect x="386.45" y="351.45" width="2.1" height="2.1" rx="0.4" fill="#d07082" stroke="#b0283f" stroke-width="0.9"/>
<rect x="383.95" y="362.45" width="2.1" height="2.1" rx="0.4" fill="#d07082" stroke="#b0283f" stroke-width="0.9"/>
<rect x="382.45" y="365.95" width="2.1" height="2.1" rx="0.4" fill="#d07082" stroke="#b0283f" stroke-width="0.9"/>
<rect x="385.45" y="367.45" width="2.1" height="2.1" rx="0.4" fill="#d07082" stroke="#b0283f" stroke-width="0.9"/>
<rect x="381.45" y="370.45" width="2.1" height="2.1" rx="0.4" fill="#d07082" stroke="#b0283f" stroke-width="0.9"/>
<rect x="386.45" y="371.45" width="2.1" height="2.1" rx="0.4" fill="#d07082" stroke="#b0283f" stroke-width="0.9"/>
<rect x="383.45" y="372.45" width="2.1" height="2.1" rx="0.4" fill="#d07082" stroke="#b0283f" stroke-width="0.9"/>
<rect x="387.45" y="372.95" width="2.1" height="2.1" rx="0.4" fill="#d07082" stroke="#b0283f" stroke-width="0.9"/>
<rect x="381.45" y="378.45" width="2.1" height="2.1" rx="0.4" fill="#d07082" stroke="#b0283f" stroke-width="0.9"/>
<rect x="384.95" y="379.45" width="2.1" height="2.1" rx="0.4" fill="#d07082" stroke="#b0283f" stroke-width="0.9"/>
<rect x="381.95" y="380.95" width="2.1" height="2.1" rx="0.4" fill="#d07082" stroke="#b0283f" stroke-width="0.9"/>
<rect x="385.95" y="379.95" width="2.1" height="2.1" rx="0.4" fill="#d07082" stroke="#b0283f" stroke-width="0.9"/>
<rect x="382.95" y="382.45" width="2.1" height="2.1" rx="0.4" fill="#d07082" stroke="#b0283f" stroke-width="0.9"/>
<rect x="386.45" y="383.45" width="2.1" height="2.1" rx="0.4" fill="#d07082" stroke="#b0283f" stroke-width="0.9"/>
<rect x="383.95" y="386.95" width="2.1" height="2.1" rx="0.4" fill="#d07082" stroke="#b0283f" stroke-width="0.9"/>
<rect x="383.45" y="391.45" width="2.1" height="2.1" rx="0.4" fill="#d07082" stroke="#b0283f" stroke-width="0.9"/>
<rect x="381.95" y="392.95" width="2.1" height="2.1" rx="0.4" fill="#d07082" stroke="#b0283f" stroke-width="0.9"/>
<rect x="385.45" y="391.95" width="2.1" height="2.1" rx="0.4" fill="#d07082" stroke="#b0283f" stroke-width="0.9"/>
<rect x="383.95" y="412.45" width="2.1" height="2.1" rx="0.4" fill="#d07082" stroke="#b0283f" stroke-width="0.9"/>
<rect x="384.95" y="420.95" width="2.1" height="2.1" rx="0.4" fill="#d07082" stroke="#b0283f" stroke-width="0.9"/>
<rect x="382.45" y="423.45" width="2.1" height="2.1" rx="0.4" fill="#d07082" stroke="#b0283f" stroke-width="0.9"/>
<path d="M394.00,348.90L397.40,348.90L395.70,345.90Z" fill="#52a03d"/>
<path d="M394.00,353.40L397.40,353.40L395.70,350.40Z" fill="#52a03d"/>
<path d="M395.30,358.40L398.70,358.40L397.00,355.40Z" fill="#52a03d"/>
<path d="M392.30,360.90L395.70,360.90L394.00,357.90Z" fill="#52a03d"/>
<path d="M392.30,367.90L395.70,367.90L394.00,364.90Z" fill="#52a03d"/>
<path d="M395.80,369.90L399.20,369.90L397.50,366.90Z" fill="#52a03d"/>
<path d="M392.30,371.90L395.70,371.90L394.00,368.90Z" fill="#52a03d"/>
<path d="M394.80,373.40L398.20,373.40L396.50,370.40Z" fill="#52a03d"/>
<path d="M392.30,387.40L395.70,387.40L394.00,384.40Z" fill="#52a03d"/>
<path d="M395.30,387.90L398.70,387.90L397.00,384.90Z" fill="#52a03d"/>
<path d="M392.30,390.90L395.70,390.90L394.00,387.90Z" fill="#52a03d"/>
<path d="M395.30,391.40L398.70,391.40L397.00,388.40Z" fill="#52a03d"/>
<path d="M392.30,400.90L395.70,400.90L394.00,397.90Z" fill="#52a03d"/>
<path d="M395.30,402.40L398.70,402.40L397.00,399.40Z" fill="#52a03d"/>
<path d="M393.90,405.90L397.30,405.90L395.60,402.90Z" fill="#52a03d"/>
<path d="M393.90,418.40L397.30,418.40L395.60,415.40Z" fill="#52a03d"/>
<path d="M393.90,422.90L397.30,422.90L395.60,419.90Z" fill="#52a03d"/>
<circle cx="412.9" cy="322.7" r="1.3" fill="#1f3d7a"/>
<circle cx="412.9" cy="330.1" r="1.3" fill="#1f3d7a"/>
<circle cx="412.9" cy="335" r="1.3" fill="#1f3d7a"/>
<circle cx="412.9" cy="348.8" r="1.3" fill="#1f3d7a"/>
<circle cx="412.9" cy="352" r="1.3" fill="#1f3d7a"/>
<circle cx="412.9" cy="362" r="1.3" fill="#1f3d7a"/>
<circle cx="412.9" cy="365.5" r="1.3" fill="#1f3d7a"/>
<circle cx="412.9" cy="374.5" r="1.3" fill="#1f3d7a"/>
<circle cx="412.9" cy="378.5" r="1.3" fill="#1f3d7a"/>
<circle cx="412.9" cy="388.5" r="1.3" fill="#1f3d7a"/>
<circle cx="412.9" cy="397.8" r="1.3" fill="#1f3d7a"/>
<circle cx="411.5" cy="401" r="1.3" fill="#1f3d7a"/>
<circle cx="414" cy="401" r="1.3" fill="#1f3d7a"/>
<circle cx="412" cy="418" r="1.3" fill="#1f3d7a"/>
<circle cx="414" cy="420.5" r="1.3" fill="#1f3d7a"/>
<circle cx="411.5" cy="422.5" r="1.3" fill="#1f3d7a"/>
<circle cx="414" cy="424" r="1.3" fill="#1f3d7a"/>
<circle cx="411" cy="426" r="1.3" fill="#1f3d7a"/>
<rect x="422.35" y="335.65" width="2.1" height="2.1" rx="0.4" fill="#d07082" stroke="#b0283f" stroke-width="0.9"/>
<rect x="422.35" y="344.65" width="2.1" height="2.1" rx="0.4" fill="#d07082" stroke="#b0283f" stroke-width="0.9"/>
<rect x="420.95" y="353.95" width="2.1" height="2.1" rx="0.4" fill="#d07082" stroke="#b0283f" stroke-width="0.9"/>
<rect x="423.45" y="352.95" width="2.1" height="2.1" rx="0.4" fill="#d07082" stroke="#b0283f" stroke-width="0.9"/>
<rect x="419.95" y="357.45" width="2.1" height="2.1" rx="0.4" fill="#d07082" stroke="#b0283f" stroke-width="0.9"/>
<rect x="423.95" y="358.95" width="2.1" height="2.1" rx="0.4" fill="#d07082" stroke="#b0283f" stroke-width="0.9"/>
<rect x="421.45" y="359.95" width="2.1" height="2.1" rx="0.4" fill="#d07082" stroke="#b0283f" stroke-width="0.9"/>
<rect x="423.45" y="364.45" width="2.1" height="2.1" rx="0.4" fill="#d07082" stroke="#b0283f" stroke-width="0.9"/>
<rect x="420.95" y="366.45" width="2.1" height="2.1" rx="0.4" fill="#d07082" stroke="#b0283f" stroke-width="0.9"/>
<rect x="424.45" y="366.95" width="2.1" height="2.1" rx="0.4" fill="#d07082" stroke="#b0283f" stroke-width="0.9"/>
<rect x="420.95" y="372.95" width="2.1" height="2.1" rx="0.4" fill="#d07082" stroke="#b0283f" stroke-width="0.9"/>
<rect x="423.95" y="372.45" width="2.1" height="2.1" rx="0.4" fill="#d07082" stroke="#b0283f" stroke-width="0.9"/>
<rect x="420.95" y="376.95" width="2.1" height="2.1" rx="0.4" fill="#d07082" stroke="#b0283f" stroke-width="0.9"/>
<rect x="423.45" y="378.95" width="2.1" height="2.1" rx="0.4" fill="#d07082" stroke="#b0283f" stroke-width="0.9"/>
<rect x="422.05" y="387.95" width="2.1" height="2.1" rx="0.4" fill="#d07082" stroke="#b0283f" stroke-width="0.9"/>
<rect x="420.95" y="405.45" width="2.1" height="2.1" rx="0.4" fill="#d07082" stroke="#b0283f" stroke-width="0.9"/>
<rect x="423.95" y="406.95" width="2.1" height="2.1" rx="0.4" fill="#d07082" stroke="#b0283f" stroke-width="0.9"/>
<rect x="421.45" y="424.45" width="2.1" height="2.1" rx="0.4" fill="#d07082" stroke="#b0283f" stroke-width="0.9"/>
<rect x="423.95" y="423.45" width="2.1" height="2.1" rx="0.4" fill="#d07082" stroke="#b0283f" stroke-width="0.9"/>
<path d="M432.00,335.40L435.40,335.40L433.70,332.40Z" fill="#52a03d"/>
<path d="M432.00,341.90L435.40,341.90L433.70,338.90Z" fill="#52a03d"/>
<path d="M432.00,351.90L435.40,351.90L433.70,348.90Z" fill="#52a03d"/>
<path d="M432.00,354.90L435.40,354.90L433.70,351.90Z" fill="#52a03d"/>
<path d="M430.30,357.90L433.70,357.90L432.00,354.90Z" fill="#52a03d"/>
<path d="M433.80,360.40L437.20,360.40L435.50,357.40Z" fill="#52a03d"/>
<path d="M429.80,366.90L433.20,366.90L431.50,363.90Z" fill="#52a03d"/>
<path d="M434.30,368.90L437.70,368.90L436.00,365.90Z" fill="#52a03d"/>
<path d="M430.30,384.90L433.70,384.90L432.00,381.90Z" fill="#52a03d"/>
<path d="M433.80,385.90L437.20,385.90L435.50,382.90Z" fill="#52a03d"/>
<path d="M429.80,395.90L433.20,395.90L431.50,392.90Z" fill="#52a03d"/>
<path d="M434.30,395.40L437.70,395.40L436.00,392.40Z" fill="#52a03d"/>
<path d="M432.10,404.40L435.50,404.40L433.80,401.40Z" fill="#52a03d"/>
<path d="M432.10,416.40L435.50,416.40L433.80,413.40Z" fill="#52a03d"/>
<path d="M432.10,419.90L435.50,419.90L433.80,416.90Z" fill="#52a03d"/>
<circle cx="451.1" cy="362.5" r="1.3" fill="#1f3d7a"/>
<circle cx="451.1" cy="366.5" r="1.3" fill="#1f3d7a"/>
<circle cx="449" cy="370.5" r="1.3" fill="#1f3d7a"/>
<circle cx="451.5" cy="371" r="1.3" fill="#1f3d7a"/>
<circle cx="453.5" cy="370.5" r="1.3" fill="#1f3d7a"/>
<circle cx="451.1" cy="379" r="1.3" fill="#1f3d7a"/>
<circle cx="451.1" cy="386.5" r="1.3" fill="#1f3d7a"/>
<circle cx="451.1" cy="390" r="1.3" fill="#1f3d7a"/>
<circle cx="450" cy="395.5" r="1.3" fill="#1f3d7a"/>
<circle cx="452.8" cy="395.5" r="1.3" fill="#1f3d7a"/>
<circle cx="451.2" cy="403" r="1.3" fill="#1f3d7a"/>
<circle cx="451.2" cy="411" r="1.3" fill="#1f3d7a"/>
<circle cx="451.2" cy="415" r="1.3" fill="#1f3d7a"/>
<circle cx="449" cy="420" r="1.3" fill="#1f3d7a"/>
<circle cx="453.5" cy="419.5" r="1.3" fill="#1f3d7a"/>
<circle cx="451" cy="421.5" r="1.3" fill="#1f3d7a"/>
<circle cx="450" cy="427.5" r="1.3" fill="#1f3d7a"/>
<circle cx="452.5" cy="426.5" r="1.3" fill="#1f3d7a"/>
<rect x="460.65" y="355.25" width="2.1" height="2.1" rx="0.4" fill="#d07082" stroke="#b0283f" stroke-width="0.9"/>
<rect x="458.95" y="376.45" width="2.1" height="2.1" rx="0.4" fill="#d07082" stroke="#b0283f" stroke-width="0.9"/>
<rect x="461.45" y="377.95" width="2.1" height="2.1" rx="0.4" fill="#d07082" stroke="#b0283f" stroke-width="0.9"/>
<rect x="462.45" y="380.45" width="2.1" height="2.1" rx="0.4" fill="#d07082" stroke="#b0283f" stroke-width="0.9"/>
<rect x="458.45" y="381.95" width="2.1" height="2.1" rx="0.4" fill="#d07082" stroke="#b0283f" stroke-width="0.9"/>
<rect x="461.95" y="382.95" width="2.1" height="2.1" rx="0.4" fill="#d07082" stroke="#b0283f" stroke-width="0.9"/>
<rect x="458.95" y="384.95" width="2.1" height="2.1" rx="0.4" fill="#d07082" stroke="#b0283f" stroke-width="0.9"/>
<rect x="461.95" y="385.45" width="2.1" height="2.1" rx="0.4" fill="#d07082" stroke="#b0283f" stroke-width="0.9"/>
<rect x="458.95" y="389.45" width="2.1" height="2.1" rx="0.4" fill="#d07082" stroke="#b0283f" stroke-width="0.9"/>
<rect x="461.45" y="390.45" width="2.1" height="2.1" rx="0.4" fill="#d07082" stroke="#b0283f" stroke-width="0.9"/>
<rect x="459.95" y="392.95" width="2.1" height="2.1" rx="0.4" fill="#d07082" stroke="#b0283f" stroke-width="0.9"/>
<rect x="460.65" y="396.95" width="2.1" height="2.1" rx="0.4" fill="#d07082" stroke="#b0283f" stroke-width="0.9"/>
<rect x="460.65" y="400.45" width="2.1" height="2.1" rx="0.4" fill="#d07082" stroke="#b0283f" stroke-width="0.9"/>
<rect x="460.65" y="404.45" width="2.1" height="2.1" rx="0.4" fill="#d07082" stroke="#b0283f" stroke-width="0.9"/>
<rect x="460.65" y="417.65" width="2.1" height="2.1" rx="0.4" fill="#d07082" stroke="#b0283f" stroke-width="0.9"/>
<rect x="460.65" y="424.95" width="2.1" height="2.1" rx="0.4" fill="#d07082" stroke="#b0283f" stroke-width="0.9"/>
<rect x="460.65" y="428.25" width="2.1" height="2.1" rx="0.4" fill="#d07082" stroke="#b0283f" stroke-width="0.9"/>
<path d="M470.50,365.40L473.90,365.40L472.20,362.40Z" fill="#52a03d"/>
<path d="M470.50,369.90L473.90,369.90L472.20,366.90Z" fill="#52a03d"/>
<path d="M468.30,372.40L471.70,372.40L470.00,369.40Z" fill="#52a03d"/>
<path d="M472.80,372.40L476.20,372.40L474.50,369.40Z" fill="#52a03d"/>
<path d="M472.30,377.90L475.70,377.90L474.00,374.90Z" fill="#52a03d"/>
<path d="M469.30,379.90L472.70,379.90L471.00,376.90Z" fill="#52a03d"/>
<path d="M469.30,385.40L472.70,385.40L471.00,382.40Z" fill="#52a03d"/>
<path d="M471.80,386.90L475.20,386.90L473.50,383.90Z" fill="#52a03d"/>
<path d="M470.50,394.00L473.90,394.00L472.20,391.00Z" fill="#52a03d"/>
<path d="M470.50,400.90L473.90,400.90L472.20,397.90Z" fill="#52a03d"/>
<path d="M470.50,404.90L473.90,404.90L472.20,401.90Z" fill="#52a03d"/>
<path d="M468.80,408.40L472.20,408.40L470.50,405.40Z" fill="#52a03d"/>
<path d="M471.80,408.40L475.20,408.40L473.50,405.40Z" fill="#52a03d"/>
<path d="M468.80,411.90L472.20,411.90L470.50,408.90Z" fill="#52a03d"/>
<path d="M471.80,413.40L475.20,413.40L473.50,410.40Z" fill="#52a03d"/>
<path d="M470.50,422.40L473.90,422.40L472.20,419.40Z" fill="#52a03d"/>
<line x1="336.1" y1="369.4" x2="336.1" y2="400.0" stroke="#383838" stroke-width="1.1"/>
<line x1="334.20000000000005" y1="369.4" x2="338.0" y2="369.4" stroke="#231f20" stroke-width="1.3"/>
<line x1="334.20000000000005" y1="400.0" x2="338.0" y2="400.0" stroke="#231f20" stroke-width="1.3"/>
<line x1="332.40000000000003" y1="390.3" x2="339.8" y2="390.3" stroke="#231f20" stroke-width="1.3"/>
<line x1="346.4" y1="372.8" x2="346.4" y2="392.4" stroke="#383838" stroke-width="1.1"/>
<line x1="344.5" y1="372.8" x2="348.29999999999995" y2="372.8" stroke="#231f20" stroke-width="1.3"/>
<line x1="344.5" y1="392.4" x2="348.29999999999995" y2="392.4" stroke="#231f20" stroke-width="1.3"/>
<line x1="342.79999999999995" y1="383.5" x2="350.0" y2="383.5" stroke="#231f20" stroke-width="1.3"/>
<line x1="357.4" y1="370.0" x2="357.4" y2="393.6" stroke="#383838" stroke-width="1.1"/>
<line x1="355.5" y1="370.0" x2="359.29999999999995" y2="370.0" stroke="#231f20" stroke-width="1.3"/>
<line x1="355.5" y1="393.6" x2="359.29999999999995" y2="393.6" stroke="#231f20" stroke-width="1.3"/>
<line x1="353.79999999999995" y1="385.3" x2="361.0" y2="385.3" stroke="#231f20" stroke-width="1.3"/>
<line x1="374.5" y1="364.5" x2="374.5" y2="402.5" stroke="#383838" stroke-width="1.1"/>
<line x1="372.6" y1="364.5" x2="376.4" y2="364.5" stroke="#231f20" stroke-width="1.3"/>
<line x1="372.6" y1="402.5" x2="376.4" y2="402.5" stroke="#231f20" stroke-width="1.3"/>
<line x1="370.8" y1="391.2" x2="378.2" y2="391.2" stroke="#231f20" stroke-width="1.3"/>
<line x1="385.1" y1="369.4" x2="385.1" y2="391.8" stroke="#383838" stroke-width="1.1"/>
<line x1="383.20000000000005" y1="369.4" x2="387.0" y2="369.4" stroke="#231f20" stroke-width="1.3"/>
<line x1="383.20000000000005" y1="391.8" x2="387.0" y2="391.8" stroke="#231f20" stroke-width="1.3"/>
<line x1="381.40000000000003" y1="377.1" x2="388.8" y2="377.1" stroke="#231f20" stroke-width="1.3"/>
<line x1="395.7" y1="366.8" x2="395.7" y2="396.9" stroke="#383838" stroke-width="1.1"/>
<line x1="393.8" y1="366.8" x2="397.59999999999997" y2="366.8" stroke="#231f20" stroke-width="1.3"/>
<line x1="393.8" y1="396.9" x2="397.59999999999997" y2="396.9" stroke="#231f20" stroke-width="1.3"/>
<line x1="392.0" y1="384.1" x2="399.4" y2="384.1" stroke="#231f20" stroke-width="1.3"/>
<line x1="412.9" y1="354.2" x2="412.9" y2="414.2" stroke="#383838" stroke-width="1.1"/>
<line x1="411.0" y1="354.2" x2="414.79999999999995" y2="354.2" stroke="#231f20" stroke-width="1.3"/>
<line x1="411.0" y1="414.2" x2="414.79999999999995" y2="414.2" stroke="#231f20" stroke-width="1.3"/>
<line x1="409.4" y1="383.4" x2="416.4" y2="383.4" stroke="#231f20" stroke-width="1.3"/>
<line x1="423.3" y1="358.2" x2="423.3" y2="387.3" stroke="#383838" stroke-width="1.1"/>
<line x1="421.40000000000003" y1="358.2" x2="425.2" y2="358.2" stroke="#231f20" stroke-width="1.3"/>
<line x1="421.40000000000003" y1="387.3" x2="425.2" y2="387.3" stroke="#231f20" stroke-width="1.3"/>
<line x1="419.6" y1="368.5" x2="427.0" y2="368.5" stroke="#231f20" stroke-width="1.3"/>
<line x1="433.8" y1="357.6" x2="433.8" y2="394.8" stroke="#383838" stroke-width="1.1"/>
<line x1="431.90000000000003" y1="357.6" x2="435.7" y2="357.6" stroke="#231f20" stroke-width="1.3"/>
<line x1="431.90000000000003" y1="394.8" x2="435.7" y2="394.8" stroke="#231f20" stroke-width="1.3"/>
<line x1="430.1" y1="376.5" x2="437.5" y2="376.5" stroke="#231f20" stroke-width="1.3"/>
<line x1="451.1" y1="373.5" x2="451.1" y2="417.8" stroke="#383838" stroke-width="1.1"/>
<line x1="449.20000000000005" y1="373.5" x2="453.0" y2="373.5" stroke="#231f20" stroke-width="1.3"/>
<line x1="449.20000000000005" y1="417.8" x2="453.0" y2="417.8" stroke="#231f20" stroke-width="1.3"/>
<line x1="447.40000000000003" y1="397.6" x2="454.8" y2="397.6" stroke="#231f20" stroke-width="1.3"/>
<line x1="461.7" y1="373.5" x2="461.7" y2="401.0" stroke="#383838" stroke-width="1.1"/>
<line x1="459.8" y1="373.5" x2="463.59999999999997" y2="373.5" stroke="#231f20" stroke-width="1.3"/>
<line x1="459.8" y1="401.0" x2="463.59999999999997" y2="401.0" stroke="#231f20" stroke-width="1.3"/>
<line x1="458.0" y1="388.6" x2="465.4" y2="388.6" stroke="#231f20" stroke-width="1.3"/>
<line x1="472.2" y1="373.5" x2="472.2" y2="393.7" stroke="#383838" stroke-width="1.1"/>
<line x1="470.3" y1="373.5" x2="474.09999999999997" y2="373.5" stroke="#231f20" stroke-width="1.3"/>
<line x1="470.3" y1="393.7" x2="474.09999999999997" y2="393.7" stroke="#231f20" stroke-width="1.3"/>
<line x1="468.59999999999997" y1="388.6" x2="475.8" y2="388.6" stroke="#231f20" stroke-width="1.3"/>
<path d="M0,1.5H519M1.5,0V521" stroke="#858585" stroke-width="1" fill="none"/><path d="M0,0.5H519M0.5,0V521" stroke="#555" stroke-width="1" fill="none"/><path d="M518.5,0V520M0,519.5H519" stroke="#dcdcdc" stroke-width="1" fill="none"/><path d="M519.5,0V521M0,520.5H520" stroke="#050505" stroke-width="1" fill="none"/>
</svg>
</body></html>
